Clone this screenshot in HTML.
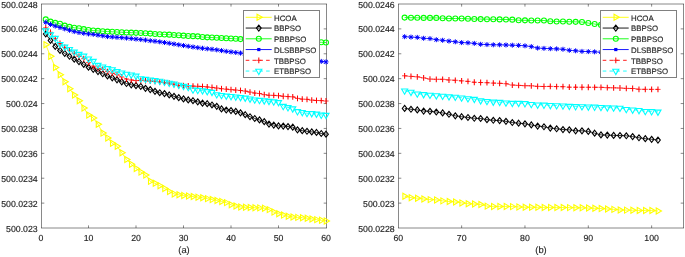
<!DOCTYPE html>
<html><head><meta charset="utf-8"><style>
html,body{margin:0;padding:0;background:#fff;}
body{width:685px;height:257px;overflow:hidden;font-family:"Liberation Sans",sans-serif;}
svg{display:block;will-change:transform;}
text{text-rendering:geometricPrecision;}
</style></head><body>
<svg width="685" height="257" viewBox="0 0 685 257">
<rect width="685" height="257" fill="#fff"/>
<path d="M41.5 4V228M326.5 4V228M41 4H327M41 228H327" fill="none" stroke="#262626" stroke-width="0.55"/>
<path d="M88.5 228v-2.6M88.5 4v2.6" stroke="#262626" stroke-width="0.55"/>
<path d="M136.0 228v-2.6M136.0 4v2.6" stroke="#262626" stroke-width="0.55"/>
<path d="M183.5 228v-2.6M183.5 4v2.6" stroke="#262626" stroke-width="0.55"/>
<path d="M231.0 228v-2.6M231.0 4v2.6" stroke="#262626" stroke-width="0.55"/>
<path d="M278.5 228v-2.6M278.5 4v2.6" stroke="#262626" stroke-width="0.55"/>
<path d="M41.5 28.88888888888889h2.8M326.5 28.88888888888889h-2.8" stroke="#262626" stroke-width="0.55"/>
<path d="M41.5 53.77777777777778h2.8M326.5 53.77777777777778h-2.8" stroke="#262626" stroke-width="0.55"/>
<path d="M41.5 78.66666666666667h2.8M326.5 78.66666666666667h-2.8" stroke="#262626" stroke-width="0.55"/>
<path d="M41.5 103.55555555555556h2.8M326.5 103.55555555555556h-2.8" stroke="#262626" stroke-width="0.55"/>
<path d="M41.5 128.44444444444446h2.8M326.5 128.44444444444446h-2.8" stroke="#262626" stroke-width="0.55"/>
<path d="M41.5 153.33333333333334h2.8M326.5 153.33333333333334h-2.8" stroke="#262626" stroke-width="0.55"/>
<path d="M41.5 178.22222222222223h2.8M326.5 178.22222222222223h-2.8" stroke="#262626" stroke-width="0.55"/>
<path d="M41.5 203.11111111111111h2.8M326.5 203.11111111111111h-2.8" stroke="#262626" stroke-width="0.55"/>
<text x="41.0" y="240.6" text-anchor="middle" font-size="8.75" fill="#262626" font-family="Liberation Sans, sans-serif" stroke="#262626" stroke-width="0.15">0</text>
<text x="88.5" y="240.6" text-anchor="middle" font-size="8.75" fill="#262626" font-family="Liberation Sans, sans-serif" stroke="#262626" stroke-width="0.15">10</text>
<text x="136.0" y="240.6" text-anchor="middle" font-size="8.75" fill="#262626" font-family="Liberation Sans, sans-serif" stroke="#262626" stroke-width="0.15">20</text>
<text x="183.5" y="240.6" text-anchor="middle" font-size="8.75" fill="#262626" font-family="Liberation Sans, sans-serif" stroke="#262626" stroke-width="0.15">30</text>
<text x="231.0" y="240.6" text-anchor="middle" font-size="8.75" fill="#262626" font-family="Liberation Sans, sans-serif" stroke="#262626" stroke-width="0.15">40</text>
<text x="278.5" y="240.6" text-anchor="middle" font-size="8.75" fill="#262626" font-family="Liberation Sans, sans-serif" stroke="#262626" stroke-width="0.15">50</text>
<text x="326.0" y="240.6" text-anchor="middle" font-size="8.75" fill="#262626" font-family="Liberation Sans, sans-serif" stroke="#262626" stroke-width="0.15">60</text>
<text x="37.7" y="7.55" text-anchor="end" font-size="8.75" fill="#262626" font-family="Liberation Sans, sans-serif" stroke="#262626" stroke-width="0.15">500.0248</text>
<text x="37.7" y="32.43888888888889" text-anchor="end" font-size="8.75" fill="#262626" font-family="Liberation Sans, sans-serif" stroke="#262626" stroke-width="0.15">500.0246</text>
<text x="37.7" y="57.327777777777776" text-anchor="end" font-size="8.75" fill="#262626" font-family="Liberation Sans, sans-serif" stroke="#262626" stroke-width="0.15">500.0244</text>
<text x="37.7" y="82.21666666666667" text-anchor="end" font-size="8.75" fill="#262626" font-family="Liberation Sans, sans-serif" stroke="#262626" stroke-width="0.15">500.0242</text>
<text x="37.7" y="107.10555555555555" text-anchor="end" font-size="8.75" fill="#262626" font-family="Liberation Sans, sans-serif" stroke="#262626" stroke-width="0.15">500.024</text>
<text x="37.7" y="131.99444444444447" text-anchor="end" font-size="8.75" fill="#262626" font-family="Liberation Sans, sans-serif" stroke="#262626" stroke-width="0.15">500.0238</text>
<text x="37.7" y="156.88333333333335" text-anchor="end" font-size="8.75" fill="#262626" font-family="Liberation Sans, sans-serif" stroke="#262626" stroke-width="0.15">500.0236</text>
<text x="37.7" y="181.77222222222224" text-anchor="end" font-size="8.75" fill="#262626" font-family="Liberation Sans, sans-serif" stroke="#262626" stroke-width="0.15">500.0234</text>
<text x="37.7" y="206.66111111111113" text-anchor="end" font-size="8.75" fill="#262626" font-family="Liberation Sans, sans-serif" stroke="#262626" stroke-width="0.15">500.0232</text>
<text x="37.7" y="231.55" text-anchor="end" font-size="8.75" fill="#262626" font-family="Liberation Sans, sans-serif" stroke="#262626" stroke-width="0.15">500.023</text>
<text x="184.0" y="252.8" text-anchor="middle" font-size="9.35" fill="#262626" font-family="Liberation Sans, sans-serif" stroke="#262626" stroke-width="0.15">(a)</text>
<g><polyline points="45.75,44.70 50.50,56.20 55.25,67.50 60.00,74.80 64.75,81.80 69.50,88.80 74.25,95.00 79.00,100.70 83.75,108.00 88.50,115.00 93.25,118.00 98.00,124.30 102.75,133.10 107.50,137.90 112.25,143.30 117.00,146.20 121.75,152.80 126.50,159.50 131.25,164.19 136.00,168.45 140.75,172.09 145.50,174.96 150.25,181.35 155.00,183.32 159.75,185.68 164.50,188.41 169.25,191.53 174.00,193.90 178.75,194.78 183.50,195.48 188.25,196.01 193.00,196.54 197.75,197.16 202.50,197.78 207.25,198.63 212.00,199.60 216.75,200.56 221.50,201.42 226.25,202.64 231.00,204.78 235.75,206.01 240.50,206.98 245.25,207.26 250.00,207.54 254.75,207.73 259.50,207.89 264.25,208.17 269.00,209.62 273.75,212.09 278.50,213.69 283.25,215.10 288.00,216.25 292.75,217.05 297.50,217.39 302.25,217.72 307.00,218.24 311.75,218.94 316.50,219.63 321.25,220.33 326.00,220.90" fill="none" stroke="#ffff00" stroke-width="0.8"/>
<path d="M49.25 44.70L44.00 41.67L44.00 47.73Z" fill="none" stroke="#ffff00" stroke-width="1.1"/>
<path d="M54.00 56.20L48.75 53.17L48.75 59.23Z" fill="none" stroke="#ffff00" stroke-width="1.1"/>
<path d="M58.75 67.50L53.50 64.47L53.50 70.53Z" fill="none" stroke="#ffff00" stroke-width="1.1"/>
<path d="M63.50 74.80L58.25 71.77L58.25 77.83Z" fill="none" stroke="#ffff00" stroke-width="1.1"/>
<path d="M68.25 81.80L63.00 78.77L63.00 84.83Z" fill="none" stroke="#ffff00" stroke-width="1.1"/>
<path d="M73.00 88.80L67.75 85.77L67.75 91.83Z" fill="none" stroke="#ffff00" stroke-width="1.1"/>
<path d="M77.75 95.00L72.50 91.97L72.50 98.03Z" fill="none" stroke="#ffff00" stroke-width="1.1"/>
<path d="M82.50 100.70L77.25 97.67L77.25 103.73Z" fill="none" stroke="#ffff00" stroke-width="1.1"/>
<path d="M87.25 108.00L82.00 104.97L82.00 111.03Z" fill="none" stroke="#ffff00" stroke-width="1.1"/>
<path d="M92.00 115.00L86.75 111.97L86.75 118.03Z" fill="none" stroke="#ffff00" stroke-width="1.1"/>
<path d="M96.75 118.00L91.50 114.97L91.50 121.03Z" fill="none" stroke="#ffff00" stroke-width="1.1"/>
<path d="M101.50 124.30L96.25 121.27L96.25 127.33Z" fill="none" stroke="#ffff00" stroke-width="1.1"/>
<path d="M106.25 133.10L101.00 130.07L101.00 136.13Z" fill="none" stroke="#ffff00" stroke-width="1.1"/>
<path d="M111.00 137.90L105.75 134.87L105.75 140.93Z" fill="none" stroke="#ffff00" stroke-width="1.1"/>
<path d="M115.75 143.30L110.50 140.27L110.50 146.33Z" fill="none" stroke="#ffff00" stroke-width="1.1"/>
<path d="M120.50 146.20L115.25 143.17L115.25 149.23Z" fill="none" stroke="#ffff00" stroke-width="1.1"/>
<path d="M125.25 152.80L120.00 149.77L120.00 155.83Z" fill="none" stroke="#ffff00" stroke-width="1.1"/>
<path d="M130.00 159.50L124.75 156.47L124.75 162.53Z" fill="none" stroke="#ffff00" stroke-width="1.1"/>
<path d="M134.75 164.19L129.50 161.16L129.50 167.22Z" fill="none" stroke="#ffff00" stroke-width="1.1"/>
<path d="M139.50 168.45L134.25 165.42L134.25 171.48Z" fill="none" stroke="#ffff00" stroke-width="1.1"/>
<path d="M144.25 172.09L139.00 169.06L139.00 175.12Z" fill="none" stroke="#ffff00" stroke-width="1.1"/>
<path d="M149.00 174.96L143.75 171.93L143.75 177.99Z" fill="none" stroke="#ffff00" stroke-width="1.1"/>
<path d="M153.75 181.35L148.50 178.32L148.50 184.38Z" fill="none" stroke="#ffff00" stroke-width="1.1"/>
<path d="M158.50 183.32L153.25 180.29L153.25 186.35Z" fill="none" stroke="#ffff00" stroke-width="1.1"/>
<path d="M163.25 185.68L158.00 182.64L158.00 188.71Z" fill="none" stroke="#ffff00" stroke-width="1.1"/>
<path d="M168.00 188.41L162.75 185.38L162.75 191.44Z" fill="none" stroke="#ffff00" stroke-width="1.1"/>
<path d="M172.75 191.53L167.50 188.49L167.50 194.56Z" fill="none" stroke="#ffff00" stroke-width="1.1"/>
<path d="M177.50 193.90L172.25 190.87L172.25 196.93Z" fill="none" stroke="#ffff00" stroke-width="1.1"/>
<path d="M182.25 194.78L177.00 191.75L177.00 197.81Z" fill="none" stroke="#ffff00" stroke-width="1.1"/>
<path d="M187.00 195.48L181.75 192.45L181.75 198.51Z" fill="none" stroke="#ffff00" stroke-width="1.1"/>
<path d="M191.75 196.01L186.50 192.97L186.50 199.04Z" fill="none" stroke="#ffff00" stroke-width="1.1"/>
<path d="M196.50 196.54L191.25 193.51L191.25 199.57Z" fill="none" stroke="#ffff00" stroke-width="1.1"/>
<path d="M201.25 197.16L196.00 194.13L196.00 200.19Z" fill="none" stroke="#ffff00" stroke-width="1.1"/>
<path d="M206.00 197.78L200.75 194.75L200.75 200.81Z" fill="none" stroke="#ffff00" stroke-width="1.1"/>
<path d="M210.75 198.63L205.50 195.59L205.50 201.66Z" fill="none" stroke="#ffff00" stroke-width="1.1"/>
<path d="M215.50 199.60L210.25 196.57L210.25 202.63Z" fill="none" stroke="#ffff00" stroke-width="1.1"/>
<path d="M220.25 200.56L215.00 197.52L215.00 203.59Z" fill="none" stroke="#ffff00" stroke-width="1.1"/>
<path d="M225.00 201.42L219.75 198.39L219.75 204.45Z" fill="none" stroke="#ffff00" stroke-width="1.1"/>
<path d="M229.75 202.64L224.50 199.61L224.50 205.67Z" fill="none" stroke="#ffff00" stroke-width="1.1"/>
<path d="M234.50 204.78L229.25 201.75L229.25 207.81Z" fill="none" stroke="#ffff00" stroke-width="1.1"/>
<path d="M239.25 206.01L234.00 202.98L234.00 209.04Z" fill="none" stroke="#ffff00" stroke-width="1.1"/>
<path d="M244.00 206.98L238.75 203.95L238.75 210.01Z" fill="none" stroke="#ffff00" stroke-width="1.1"/>
<path d="M248.75 207.26L243.50 204.23L243.50 210.29Z" fill="none" stroke="#ffff00" stroke-width="1.1"/>
<path d="M253.50 207.54L248.25 204.51L248.25 210.57Z" fill="none" stroke="#ffff00" stroke-width="1.1"/>
<path d="M258.25 207.73L253.00 204.70L253.00 210.76Z" fill="none" stroke="#ffff00" stroke-width="1.1"/>
<path d="M263.00 207.89L257.75 204.86L257.75 210.92Z" fill="none" stroke="#ffff00" stroke-width="1.1"/>
<path d="M267.75 208.17L262.50 205.14L262.50 211.20Z" fill="none" stroke="#ffff00" stroke-width="1.1"/>
<path d="M272.50 209.62L267.25 206.59L267.25 212.66Z" fill="none" stroke="#ffff00" stroke-width="1.1"/>
<path d="M277.25 212.09L272.00 209.06L272.00 215.12Z" fill="none" stroke="#ffff00" stroke-width="1.1"/>
<path d="M282.00 213.69L276.75 210.66L276.75 216.72Z" fill="none" stroke="#ffff00" stroke-width="1.1"/>
<path d="M286.75 215.10L281.50 212.07L281.50 218.13Z" fill="none" stroke="#ffff00" stroke-width="1.1"/>
<path d="M291.50 216.25L286.25 213.22L286.25 219.28Z" fill="none" stroke="#ffff00" stroke-width="1.1"/>
<path d="M296.25 217.05L291.00 214.02L291.00 220.08Z" fill="none" stroke="#ffff00" stroke-width="1.1"/>
<path d="M301.00 217.39L295.75 214.35L295.75 220.42Z" fill="none" stroke="#ffff00" stroke-width="1.1"/>
<path d="M305.75 217.72L300.50 214.69L300.50 220.76Z" fill="none" stroke="#ffff00" stroke-width="1.1"/>
<path d="M310.50 218.24L305.25 215.21L305.25 221.27Z" fill="none" stroke="#ffff00" stroke-width="1.1"/>
<path d="M315.25 218.94L310.00 215.91L310.00 221.97Z" fill="none" stroke="#ffff00" stroke-width="1.1"/>
<path d="M320.00 219.63L314.75 216.60L314.75 222.67Z" fill="none" stroke="#ffff00" stroke-width="1.1"/>
<path d="M324.75 220.33L319.50 217.29L319.50 223.36Z" fill="none" stroke="#ffff00" stroke-width="1.1"/>
<path d="M329.50 220.90L324.25 217.87L324.25 223.93Z" fill="none" stroke="#ffff00" stroke-width="1.1"/>
<polyline points="45.75,34.00 50.50,40.40 55.25,46.40 60.00,50.40 64.75,53.48 69.50,56.27 74.25,59.15 79.00,61.73 83.75,64.44 88.50,67.14 93.25,69.37 98.00,71.58 102.75,73.77 107.50,75.94 112.25,77.86 117.00,79.80 121.75,81.85 126.50,83.52 131.25,84.82 136.00,85.65 140.75,86.47 145.50,88.33 150.25,89.59 155.00,91.33 159.75,92.71 164.50,93.58 169.25,94.93 174.00,96.30 178.75,97.66 183.50,98.90 188.25,99.89 193.00,100.68 197.75,101.81 202.50,103.13 207.25,103.68 212.00,104.96 216.75,106.36 221.50,108.88 226.25,109.99 231.00,110.56 235.75,111.39 240.50,112.80 245.25,114.68 250.00,116.73 254.75,118.47 259.50,119.91 264.25,121.64 269.00,124.05 273.75,125.09 278.50,125.90 283.25,126.11 288.00,126.55 292.75,127.14 297.50,129.85 302.25,130.66 307.00,131.27 311.75,131.88 316.50,132.42 321.25,133.47 326.00,134.20" fill="none" stroke="#000000" stroke-width="0.8"/>
<path d="M45.75 31.05L48.10 34.00L45.75 36.95L43.40 34.00Z" fill="none" stroke="#000000" stroke-width="1.1"/>
<path d="M50.50 37.45L52.85 40.40L50.50 43.35L48.15 40.40Z" fill="none" stroke="#000000" stroke-width="1.1"/>
<path d="M55.25 43.45L57.60 46.40L55.25 49.35L52.90 46.40Z" fill="none" stroke="#000000" stroke-width="1.1"/>
<path d="M60.00 47.45L62.35 50.40L60.00 53.35L57.65 50.40Z" fill="none" stroke="#000000" stroke-width="1.1"/>
<path d="M64.75 50.53L67.10 53.48L64.75 56.43L62.40 53.48Z" fill="none" stroke="#000000" stroke-width="1.1"/>
<path d="M69.50 53.32L71.85 56.27L69.50 59.22L67.15 56.27Z" fill="none" stroke="#000000" stroke-width="1.1"/>
<path d="M74.25 56.20L76.60 59.15L74.25 62.10L71.90 59.15Z" fill="none" stroke="#000000" stroke-width="1.1"/>
<path d="M79.00 58.78L81.35 61.73L79.00 64.68L76.65 61.73Z" fill="none" stroke="#000000" stroke-width="1.1"/>
<path d="M83.75 61.49L86.10 64.44L83.75 67.39L81.40 64.44Z" fill="none" stroke="#000000" stroke-width="1.1"/>
<path d="M88.50 64.19L90.85 67.14L88.50 70.09L86.15 67.14Z" fill="none" stroke="#000000" stroke-width="1.1"/>
<path d="M93.25 66.42L95.60 69.37L93.25 72.32L90.90 69.37Z" fill="none" stroke="#000000" stroke-width="1.1"/>
<path d="M98.00 68.63L100.35 71.58L98.00 74.53L95.65 71.58Z" fill="none" stroke="#000000" stroke-width="1.1"/>
<path d="M102.75 70.82L105.10 73.77L102.75 76.72L100.40 73.77Z" fill="none" stroke="#000000" stroke-width="1.1"/>
<path d="M107.50 72.99L109.85 75.94L107.50 78.89L105.15 75.94Z" fill="none" stroke="#000000" stroke-width="1.1"/>
<path d="M112.25 74.91L114.60 77.86L112.25 80.81L109.90 77.86Z" fill="none" stroke="#000000" stroke-width="1.1"/>
<path d="M117.00 76.85L119.35 79.80L117.00 82.75L114.65 79.80Z" fill="none" stroke="#000000" stroke-width="1.1"/>
<path d="M121.75 78.90L124.10 81.85L121.75 84.80L119.40 81.85Z" fill="none" stroke="#000000" stroke-width="1.1"/>
<path d="M126.50 80.57L128.85 83.52L126.50 86.47L124.15 83.52Z" fill="none" stroke="#000000" stroke-width="1.1"/>
<path d="M131.25 81.87L133.60 84.82L131.25 87.77L128.90 84.82Z" fill="none" stroke="#000000" stroke-width="1.1"/>
<path d="M136.00 82.70L138.35 85.65L136.00 88.60L133.65 85.65Z" fill="none" stroke="#000000" stroke-width="1.1"/>
<path d="M140.75 83.52L143.10 86.47L140.75 89.42L138.40 86.47Z" fill="none" stroke="#000000" stroke-width="1.1"/>
<path d="M145.50 85.38L147.85 88.33L145.50 91.28L143.15 88.33Z" fill="none" stroke="#000000" stroke-width="1.1"/>
<path d="M150.25 86.64L152.60 89.59L150.25 92.54L147.90 89.59Z" fill="none" stroke="#000000" stroke-width="1.1"/>
<path d="M155.00 88.38L157.35 91.33L155.00 94.28L152.65 91.33Z" fill="none" stroke="#000000" stroke-width="1.1"/>
<path d="M159.75 89.76L162.10 92.71L159.75 95.66L157.40 92.71Z" fill="none" stroke="#000000" stroke-width="1.1"/>
<path d="M164.50 90.63L166.85 93.58L164.50 96.53L162.15 93.58Z" fill="none" stroke="#000000" stroke-width="1.1"/>
<path d="M169.25 91.98L171.60 94.93L169.25 97.88L166.90 94.93Z" fill="none" stroke="#000000" stroke-width="1.1"/>
<path d="M174.00 93.35L176.35 96.30L174.00 99.25L171.65 96.30Z" fill="none" stroke="#000000" stroke-width="1.1"/>
<path d="M178.75 94.71L181.10 97.66L178.75 100.61L176.40 97.66Z" fill="none" stroke="#000000" stroke-width="1.1"/>
<path d="M183.50 95.95L185.85 98.90L183.50 101.85L181.15 98.90Z" fill="none" stroke="#000000" stroke-width="1.1"/>
<path d="M188.25 96.94L190.60 99.89L188.25 102.84L185.90 99.89Z" fill="none" stroke="#000000" stroke-width="1.1"/>
<path d="M193.00 97.73L195.35 100.68L193.00 103.63L190.65 100.68Z" fill="none" stroke="#000000" stroke-width="1.1"/>
<path d="M197.75 98.86L200.10 101.81L197.75 104.76L195.40 101.81Z" fill="none" stroke="#000000" stroke-width="1.1"/>
<path d="M202.50 100.18L204.85 103.13L202.50 106.08L200.15 103.13Z" fill="none" stroke="#000000" stroke-width="1.1"/>
<path d="M207.25 100.73L209.60 103.68L207.25 106.63L204.90 103.68Z" fill="none" stroke="#000000" stroke-width="1.1"/>
<path d="M212.00 102.01L214.35 104.96L212.00 107.91L209.65 104.96Z" fill="none" stroke="#000000" stroke-width="1.1"/>
<path d="M216.75 103.41L219.10 106.36L216.75 109.31L214.40 106.36Z" fill="none" stroke="#000000" stroke-width="1.1"/>
<path d="M221.50 105.93L223.85 108.88L221.50 111.83L219.15 108.88Z" fill="none" stroke="#000000" stroke-width="1.1"/>
<path d="M226.25 107.04L228.60 109.99L226.25 112.94L223.90 109.99Z" fill="none" stroke="#000000" stroke-width="1.1"/>
<path d="M231.00 107.61L233.35 110.56L231.00 113.51L228.65 110.56Z" fill="none" stroke="#000000" stroke-width="1.1"/>
<path d="M235.75 108.44L238.10 111.39L235.75 114.34L233.40 111.39Z" fill="none" stroke="#000000" stroke-width="1.1"/>
<path d="M240.50 109.85L242.85 112.80L240.50 115.75L238.15 112.80Z" fill="none" stroke="#000000" stroke-width="1.1"/>
<path d="M245.25 111.73L247.60 114.68L245.25 117.63L242.90 114.68Z" fill="none" stroke="#000000" stroke-width="1.1"/>
<path d="M250.00 113.78L252.35 116.73L250.00 119.68L247.65 116.73Z" fill="none" stroke="#000000" stroke-width="1.1"/>
<path d="M254.75 115.52L257.10 118.47L254.75 121.42L252.40 118.47Z" fill="none" stroke="#000000" stroke-width="1.1"/>
<path d="M259.50 116.96L261.85 119.91L259.50 122.86L257.15 119.91Z" fill="none" stroke="#000000" stroke-width="1.1"/>
<path d="M264.25 118.69L266.60 121.64L264.25 124.59L261.90 121.64Z" fill="none" stroke="#000000" stroke-width="1.1"/>
<path d="M269.00 121.10L271.35 124.05L269.00 127.00L266.65 124.05Z" fill="none" stroke="#000000" stroke-width="1.1"/>
<path d="M273.75 122.14L276.10 125.09L273.75 128.04L271.40 125.09Z" fill="none" stroke="#000000" stroke-width="1.1"/>
<path d="M278.50 122.95L280.85 125.90L278.50 128.85L276.15 125.90Z" fill="none" stroke="#000000" stroke-width="1.1"/>
<path d="M283.25 123.16L285.60 126.11L283.25 129.06L280.90 126.11Z" fill="none" stroke="#000000" stroke-width="1.1"/>
<path d="M288.00 123.60L290.35 126.55L288.00 129.50L285.65 126.55Z" fill="none" stroke="#000000" stroke-width="1.1"/>
<path d="M292.75 124.19L295.10 127.14L292.75 130.09L290.40 127.14Z" fill="none" stroke="#000000" stroke-width="1.1"/>
<path d="M297.50 126.90L299.85 129.85L297.50 132.80L295.15 129.85Z" fill="none" stroke="#000000" stroke-width="1.1"/>
<path d="M302.25 127.71L304.60 130.66L302.25 133.61L299.90 130.66Z" fill="none" stroke="#000000" stroke-width="1.1"/>
<path d="M307.00 128.32L309.35 131.27L307.00 134.22L304.65 131.27Z" fill="none" stroke="#000000" stroke-width="1.1"/>
<path d="M311.75 128.93L314.10 131.88L311.75 134.83L309.40 131.88Z" fill="none" stroke="#000000" stroke-width="1.1"/>
<path d="M316.50 129.47L318.85 132.42L316.50 135.37L314.15 132.42Z" fill="none" stroke="#000000" stroke-width="1.1"/>
<path d="M321.25 130.52L323.60 133.47L321.25 136.42L318.90 133.47Z" fill="none" stroke="#000000" stroke-width="1.1"/>
<path d="M326.00 131.25L328.35 134.20L326.00 137.15L323.65 134.20Z" fill="none" stroke="#000000" stroke-width="1.1"/>
<polyline points="45.75,19.40 50.50,21.60 55.25,22.90 60.00,23.80 64.75,25.60 69.50,26.90 74.25,27.80 79.00,28.20 83.75,29.10 88.50,30.00 93.25,30.50 98.00,30.87 102.75,31.23 107.50,31.60 112.25,31.82 117.00,32.03 121.75,32.25 126.50,32.46 131.25,32.67 136.00,32.87 140.75,33.07 145.50,33.28 150.25,33.62 155.00,33.97 159.75,34.23 164.50,34.43 169.25,34.66 174.00,34.99 178.75,35.31 183.50,35.65 188.25,36.00 193.00,36.15 197.75,36.34 202.50,37.06 207.25,37.37 212.00,37.57 216.75,37.79 221.50,38.03 226.25,38.28 231.00,38.55 235.75,38.82 240.50,39.09 245.25,39.28 250.00,39.47 254.75,39.66 259.50,39.85 264.25,40.04 269.00,40.23 273.75,40.42 278.50,40.61 283.25,40.80 288.00,40.99 292.75,41.17 297.50,41.36 302.25,41.55 307.00,41.74 311.75,41.93 316.50,42.12 321.25,42.31 326.00,42.50" fill="none" stroke="#00ff00" stroke-width="0.8"/>
<circle cx="45.75" cy="19.40" r="2.50" fill="none" stroke="#00ff00" stroke-width="1.1"/>
<circle cx="50.50" cy="21.60" r="2.50" fill="none" stroke="#00ff00" stroke-width="1.1"/>
<circle cx="55.25" cy="22.90" r="2.50" fill="none" stroke="#00ff00" stroke-width="1.1"/>
<circle cx="60.00" cy="23.80" r="2.50" fill="none" stroke="#00ff00" stroke-width="1.1"/>
<circle cx="64.75" cy="25.60" r="2.50" fill="none" stroke="#00ff00" stroke-width="1.1"/>
<circle cx="69.50" cy="26.90" r="2.50" fill="none" stroke="#00ff00" stroke-width="1.1"/>
<circle cx="74.25" cy="27.80" r="2.50" fill="none" stroke="#00ff00" stroke-width="1.1"/>
<circle cx="79.00" cy="28.20" r="2.50" fill="none" stroke="#00ff00" stroke-width="1.1"/>
<circle cx="83.75" cy="29.10" r="2.50" fill="none" stroke="#00ff00" stroke-width="1.1"/>
<circle cx="88.50" cy="30.00" r="2.50" fill="none" stroke="#00ff00" stroke-width="1.1"/>
<circle cx="93.25" cy="30.50" r="2.50" fill="none" stroke="#00ff00" stroke-width="1.1"/>
<circle cx="98.00" cy="30.87" r="2.50" fill="none" stroke="#00ff00" stroke-width="1.1"/>
<circle cx="102.75" cy="31.23" r="2.50" fill="none" stroke="#00ff00" stroke-width="1.1"/>
<circle cx="107.50" cy="31.60" r="2.50" fill="none" stroke="#00ff00" stroke-width="1.1"/>
<circle cx="112.25" cy="31.82" r="2.50" fill="none" stroke="#00ff00" stroke-width="1.1"/>
<circle cx="117.00" cy="32.03" r="2.50" fill="none" stroke="#00ff00" stroke-width="1.1"/>
<circle cx="121.75" cy="32.25" r="2.50" fill="none" stroke="#00ff00" stroke-width="1.1"/>
<circle cx="126.50" cy="32.46" r="2.50" fill="none" stroke="#00ff00" stroke-width="1.1"/>
<circle cx="131.25" cy="32.67" r="2.50" fill="none" stroke="#00ff00" stroke-width="1.1"/>
<circle cx="136.00" cy="32.87" r="2.50" fill="none" stroke="#00ff00" stroke-width="1.1"/>
<circle cx="140.75" cy="33.07" r="2.50" fill="none" stroke="#00ff00" stroke-width="1.1"/>
<circle cx="145.50" cy="33.28" r="2.50" fill="none" stroke="#00ff00" stroke-width="1.1"/>
<circle cx="150.25" cy="33.62" r="2.50" fill="none" stroke="#00ff00" stroke-width="1.1"/>
<circle cx="155.00" cy="33.97" r="2.50" fill="none" stroke="#00ff00" stroke-width="1.1"/>
<circle cx="159.75" cy="34.23" r="2.50" fill="none" stroke="#00ff00" stroke-width="1.1"/>
<circle cx="164.50" cy="34.43" r="2.50" fill="none" stroke="#00ff00" stroke-width="1.1"/>
<circle cx="169.25" cy="34.66" r="2.50" fill="none" stroke="#00ff00" stroke-width="1.1"/>
<circle cx="174.00" cy="34.99" r="2.50" fill="none" stroke="#00ff00" stroke-width="1.1"/>
<circle cx="178.75" cy="35.31" r="2.50" fill="none" stroke="#00ff00" stroke-width="1.1"/>
<circle cx="183.50" cy="35.65" r="2.50" fill="none" stroke="#00ff00" stroke-width="1.1"/>
<circle cx="188.25" cy="36.00" r="2.50" fill="none" stroke="#00ff00" stroke-width="1.1"/>
<circle cx="193.00" cy="36.15" r="2.50" fill="none" stroke="#00ff00" stroke-width="1.1"/>
<circle cx="197.75" cy="36.34" r="2.50" fill="none" stroke="#00ff00" stroke-width="1.1"/>
<circle cx="202.50" cy="37.06" r="2.50" fill="none" stroke="#00ff00" stroke-width="1.1"/>
<circle cx="207.25" cy="37.37" r="2.50" fill="none" stroke="#00ff00" stroke-width="1.1"/>
<circle cx="212.00" cy="37.57" r="2.50" fill="none" stroke="#00ff00" stroke-width="1.1"/>
<circle cx="216.75" cy="37.79" r="2.50" fill="none" stroke="#00ff00" stroke-width="1.1"/>
<circle cx="221.50" cy="38.03" r="2.50" fill="none" stroke="#00ff00" stroke-width="1.1"/>
<circle cx="226.25" cy="38.28" r="2.50" fill="none" stroke="#00ff00" stroke-width="1.1"/>
<circle cx="231.00" cy="38.55" r="2.50" fill="none" stroke="#00ff00" stroke-width="1.1"/>
<circle cx="235.75" cy="38.82" r="2.50" fill="none" stroke="#00ff00" stroke-width="1.1"/>
<circle cx="240.50" cy="39.09" r="2.50" fill="none" stroke="#00ff00" stroke-width="1.1"/>
<circle cx="245.25" cy="39.28" r="2.50" fill="none" stroke="#00ff00" stroke-width="1.1"/>
<circle cx="250.00" cy="39.47" r="2.50" fill="none" stroke="#00ff00" stroke-width="1.1"/>
<circle cx="254.75" cy="39.66" r="2.50" fill="none" stroke="#00ff00" stroke-width="1.1"/>
<circle cx="259.50" cy="39.85" r="2.50" fill="none" stroke="#00ff00" stroke-width="1.1"/>
<circle cx="264.25" cy="40.04" r="2.50" fill="none" stroke="#00ff00" stroke-width="1.1"/>
<circle cx="269.00" cy="40.23" r="2.50" fill="none" stroke="#00ff00" stroke-width="1.1"/>
<circle cx="273.75" cy="40.42" r="2.50" fill="none" stroke="#00ff00" stroke-width="1.1"/>
<circle cx="278.50" cy="40.61" r="2.50" fill="none" stroke="#00ff00" stroke-width="1.1"/>
<circle cx="283.25" cy="40.80" r="2.50" fill="none" stroke="#00ff00" stroke-width="1.1"/>
<circle cx="288.00" cy="40.99" r="2.50" fill="none" stroke="#00ff00" stroke-width="1.1"/>
<circle cx="292.75" cy="41.17" r="2.50" fill="none" stroke="#00ff00" stroke-width="1.1"/>
<circle cx="297.50" cy="41.36" r="2.50" fill="none" stroke="#00ff00" stroke-width="1.1"/>
<circle cx="302.25" cy="41.55" r="2.50" fill="none" stroke="#00ff00" stroke-width="1.1"/>
<circle cx="307.00" cy="41.74" r="2.50" fill="none" stroke="#00ff00" stroke-width="1.1"/>
<circle cx="311.75" cy="41.93" r="2.50" fill="none" stroke="#00ff00" stroke-width="1.1"/>
<circle cx="316.50" cy="42.12" r="2.50" fill="none" stroke="#00ff00" stroke-width="1.1"/>
<circle cx="321.25" cy="42.31" r="2.50" fill="none" stroke="#00ff00" stroke-width="1.1"/>
<circle cx="326.00" cy="42.50" r="2.50" fill="none" stroke="#00ff00" stroke-width="1.1"/>
<polyline points="45.75,22.30 50.50,24.46 55.25,26.06 60.00,27.48 64.75,28.88 69.50,30.24 74.25,31.59 79.00,32.48 83.75,33.30 88.50,33.91 93.25,34.33 98.00,35.09 102.75,35.84 107.50,36.60 112.25,36.95 117.00,37.31 121.75,37.66 126.50,38.06 131.25,38.55 136.00,39.05 140.75,39.55 145.50,40.05 150.25,40.71 155.00,41.22 159.75,41.84 164.50,42.53 169.25,43.24 174.00,44.02 178.75,44.80 183.50,45.55 188.25,46.29 193.00,46.98 197.75,47.63 202.50,48.28 207.25,48.80 212.00,49.29 216.75,49.87 221.50,50.60 226.25,51.33 231.00,51.92 235.75,52.50 240.50,53.08 245.25,53.57 250.00,54.06 254.75,54.55 259.50,55.04 264.25,55.53 269.00,56.02 273.75,56.51 278.50,57.00 283.25,57.49 288.00,57.98 292.75,58.47 297.50,58.96 302.25,59.45 307.00,59.94 311.75,60.43 316.50,60.92 321.25,61.41 326.00,61.90" fill="none" stroke="#0000ff" stroke-width="0.8"/>
<path d="M43.25 22.30H48.25M45.75 19.80V24.80M43.88 20.43L47.62 24.18M43.88 24.18L47.62 20.43" stroke="#0000ff" stroke-width="1"/>
<path d="M48.00 24.46H53.00M50.50 21.96V26.96M48.62 22.58L52.38 26.33M48.62 26.33L52.38 22.58" stroke="#0000ff" stroke-width="1"/>
<path d="M52.75 26.06H57.75M55.25 23.56V28.56M53.38 24.19L57.12 27.94M53.38 27.94L57.12 24.19" stroke="#0000ff" stroke-width="1"/>
<path d="M57.50 27.48H62.50M60.00 24.98V29.98M58.12 25.61L61.88 29.36M58.12 29.36L61.88 25.61" stroke="#0000ff" stroke-width="1"/>
<path d="M62.25 28.88H67.25M64.75 26.38V31.38M62.88 27.01L66.62 30.76M62.88 30.76L66.62 27.01" stroke="#0000ff" stroke-width="1"/>
<path d="M67.00 30.24H72.00M69.50 27.74V32.74M67.62 28.36L71.38 32.11M67.62 32.11L71.38 28.36" stroke="#0000ff" stroke-width="1"/>
<path d="M71.75 31.59H76.75M74.25 29.09V34.09M72.38 29.71L76.12 33.46M72.38 33.46L76.12 29.71" stroke="#0000ff" stroke-width="1"/>
<path d="M76.50 32.48H81.50M79.00 29.98V34.98M77.12 30.61L80.88 34.36M77.12 34.36L80.88 30.61" stroke="#0000ff" stroke-width="1"/>
<path d="M81.25 33.30H86.25M83.75 30.80V35.80M81.88 31.42L85.62 35.17M81.88 35.17L85.62 31.42" stroke="#0000ff" stroke-width="1"/>
<path d="M86.00 33.91H91.00M88.50 31.41V36.41M86.62 32.03L90.38 35.78M86.62 35.78L90.38 32.03" stroke="#0000ff" stroke-width="1"/>
<path d="M90.75 34.33H95.75M93.25 31.83V36.83M91.38 32.46L95.12 36.21M91.38 36.21L95.12 32.46" stroke="#0000ff" stroke-width="1"/>
<path d="M95.50 35.09H100.50M98.00 32.59V37.59M96.12 33.21L99.88 36.96M96.12 36.96L99.88 33.21" stroke="#0000ff" stroke-width="1"/>
<path d="M100.25 35.84H105.25M102.75 33.34V38.34M100.88 33.97L104.62 37.72M100.88 37.72L104.62 33.97" stroke="#0000ff" stroke-width="1"/>
<path d="M105.00 36.60H110.00M107.50 34.10V39.10M105.62 34.73L109.38 38.48M105.62 38.48L109.38 34.73" stroke="#0000ff" stroke-width="1"/>
<path d="M109.75 36.95H114.75M112.25 34.45V39.45M110.38 35.08L114.12 38.83M110.38 38.83L114.12 35.08" stroke="#0000ff" stroke-width="1"/>
<path d="M114.50 37.31H119.50M117.00 34.81V39.81M115.12 35.43L118.88 39.18M115.12 39.18L118.88 35.43" stroke="#0000ff" stroke-width="1"/>
<path d="M119.25 37.66H124.25M121.75 35.16V40.16M119.88 35.78L123.62 39.53M119.88 39.53L123.62 35.78" stroke="#0000ff" stroke-width="1"/>
<path d="M124.00 38.06H129.00M126.50 35.56V40.56M124.62 36.18L128.38 39.93M124.62 39.93L128.38 36.18" stroke="#0000ff" stroke-width="1"/>
<path d="M128.75 38.55H133.75M131.25 36.05V41.05M129.38 36.68L133.12 40.43M129.38 40.43L133.12 36.68" stroke="#0000ff" stroke-width="1"/>
<path d="M133.50 39.05H138.50M136.00 36.55V41.55M134.12 37.18L137.88 40.93M134.12 40.93L137.88 37.18" stroke="#0000ff" stroke-width="1"/>
<path d="M138.25 39.55H143.25M140.75 37.05V42.05M138.88 37.67L142.62 41.42M138.88 41.42L142.62 37.67" stroke="#0000ff" stroke-width="1"/>
<path d="M143.00 40.05H148.00M145.50 37.55V42.55M143.62 38.17L147.38 41.92M143.62 41.92L147.38 38.17" stroke="#0000ff" stroke-width="1"/>
<path d="M147.75 40.71H152.75M150.25 38.21V43.21M148.38 38.83L152.12 42.58M148.38 42.58L152.12 38.83" stroke="#0000ff" stroke-width="1"/>
<path d="M152.50 41.22H157.50M155.00 38.72V43.72M153.12 39.35L156.88 43.10M153.12 43.10L156.88 39.35" stroke="#0000ff" stroke-width="1"/>
<path d="M157.25 41.84H162.25M159.75 39.34V44.34M157.88 39.97L161.62 43.72M157.88 43.72L161.62 39.97" stroke="#0000ff" stroke-width="1"/>
<path d="M162.00 42.53H167.00M164.50 40.03V45.03M162.62 40.66L166.38 44.41M162.62 44.41L166.38 40.66" stroke="#0000ff" stroke-width="1"/>
<path d="M166.75 43.24H171.75M169.25 40.74V45.74M167.38 41.36L171.12 45.11M167.38 45.11L171.12 41.36" stroke="#0000ff" stroke-width="1"/>
<path d="M171.50 44.02H176.50M174.00 41.52V46.52M172.12 42.14L175.88 45.89M172.12 45.89L175.88 42.14" stroke="#0000ff" stroke-width="1"/>
<path d="M176.25 44.80H181.25M178.75 42.30V47.30M176.88 42.92L180.62 46.67M176.88 46.67L180.62 42.92" stroke="#0000ff" stroke-width="1"/>
<path d="M181.00 45.55H186.00M183.50 43.05V48.05M181.62 43.67L185.38 47.42M181.62 47.42L185.38 43.67" stroke="#0000ff" stroke-width="1"/>
<path d="M185.75 46.29H190.75M188.25 43.79V48.79M186.38 44.42L190.12 48.17M186.38 48.17L190.12 44.42" stroke="#0000ff" stroke-width="1"/>
<path d="M190.50 46.98H195.50M193.00 44.48V49.48M191.12 45.10L194.88 48.85M191.12 48.85L194.88 45.10" stroke="#0000ff" stroke-width="1"/>
<path d="M195.25 47.63H200.25M197.75 45.13V50.13M195.88 45.75L199.62 49.50M195.88 49.50L199.62 45.75" stroke="#0000ff" stroke-width="1"/>
<path d="M200.00 48.28H205.00M202.50 45.78V50.78M200.62 46.40L204.38 50.15M200.62 50.15L204.38 46.40" stroke="#0000ff" stroke-width="1"/>
<path d="M204.75 48.80H209.75M207.25 46.30V51.30M205.38 46.92L209.12 50.67M205.38 50.67L209.12 46.92" stroke="#0000ff" stroke-width="1"/>
<path d="M209.50 49.29H214.50M212.00 46.79V51.79M210.12 47.41L213.88 51.16M210.12 51.16L213.88 47.41" stroke="#0000ff" stroke-width="1"/>
<path d="M214.25 49.87H219.25M216.75 47.37V52.37M214.88 47.99L218.62 51.74M214.88 51.74L218.62 47.99" stroke="#0000ff" stroke-width="1"/>
<path d="M219.00 50.60H224.00M221.50 48.10V53.10M219.62 48.73L223.38 52.48M219.62 52.48L223.38 48.73" stroke="#0000ff" stroke-width="1"/>
<path d="M223.75 51.33H228.75M226.25 48.83V53.83M224.38 49.46L228.12 53.21M224.38 53.21L228.12 49.46" stroke="#0000ff" stroke-width="1"/>
<path d="M228.50 51.92H233.50M231.00 49.42V54.42M229.12 50.05L232.88 53.80M229.12 53.80L232.88 50.05" stroke="#0000ff" stroke-width="1"/>
<path d="M233.25 52.50H238.25M235.75 50.00V55.00M233.88 50.62L237.62 54.37M233.88 54.37L237.62 50.62" stroke="#0000ff" stroke-width="1"/>
<path d="M238.00 53.08H243.00M240.50 50.58V55.58M238.62 51.20L242.38 54.95M238.62 54.95L242.38 51.20" stroke="#0000ff" stroke-width="1"/>
<path d="M242.75 53.57H247.75M245.25 51.07V56.07M243.38 51.69L247.12 55.44M243.38 55.44L247.12 51.69" stroke="#0000ff" stroke-width="1"/>
<path d="M247.50 54.06H252.50M250.00 51.56V56.56M248.12 52.18L251.88 55.93M248.12 55.93L251.88 52.18" stroke="#0000ff" stroke-width="1"/>
<path d="M252.25 54.55H257.25M254.75 52.05V57.05M252.88 52.67L256.62 56.42M252.88 56.42L256.62 52.67" stroke="#0000ff" stroke-width="1"/>
<path d="M257.00 55.04H262.00M259.50 52.54V57.54M257.62 53.16L261.38 56.91M257.62 56.91L261.38 53.16" stroke="#0000ff" stroke-width="1"/>
<path d="M261.75 55.53H266.75M264.25 53.03V58.03M262.38 53.65L266.12 57.40M262.38 57.40L266.12 53.65" stroke="#0000ff" stroke-width="1"/>
<path d="M266.50 56.02H271.50M269.00 53.52V58.52M267.12 54.14L270.88 57.89M267.12 57.89L270.88 54.14" stroke="#0000ff" stroke-width="1"/>
<path d="M271.25 56.51H276.25M273.75 54.01V59.01M271.88 54.63L275.62 58.38M271.88 58.38L275.62 54.63" stroke="#0000ff" stroke-width="1"/>
<path d="M276.00 57.00H281.00M278.50 54.50V59.50M276.62 55.12L280.38 58.87M276.62 58.87L280.38 55.12" stroke="#0000ff" stroke-width="1"/>
<path d="M280.75 57.49H285.75M283.25 54.99V59.99M281.38 55.61L285.12 59.36M281.38 59.36L285.12 55.61" stroke="#0000ff" stroke-width="1"/>
<path d="M285.50 57.98H290.50M288.00 55.48V60.48M286.12 56.10L289.88 59.85M286.12 59.85L289.88 56.10" stroke="#0000ff" stroke-width="1"/>
<path d="M290.25 58.47H295.25M292.75 55.97V60.97M290.88 56.59L294.62 60.34M290.88 60.34L294.62 56.59" stroke="#0000ff" stroke-width="1"/>
<path d="M295.00 58.96H300.00M297.50 56.46V61.46M295.62 57.08L299.38 60.83M295.62 60.83L299.38 57.08" stroke="#0000ff" stroke-width="1"/>
<path d="M299.75 59.45H304.75M302.25 56.95V61.95M300.38 57.57L304.12 61.32M300.38 61.32L304.12 57.57" stroke="#0000ff" stroke-width="1"/>
<path d="M304.50 59.94H309.50M307.00 57.44V62.44M305.12 58.06L308.88 61.81M305.12 61.81L308.88 58.06" stroke="#0000ff" stroke-width="1"/>
<path d="M309.25 60.43H314.25M311.75 57.93V62.93M309.88 58.55L313.62 62.30M309.88 62.30L313.62 58.55" stroke="#0000ff" stroke-width="1"/>
<path d="M314.00 60.92H319.00M316.50 58.42V63.42M314.62 59.04L318.38 62.79M314.62 62.79L318.38 59.04" stroke="#0000ff" stroke-width="1"/>
<path d="M318.75 61.41H323.75M321.25 58.91V63.91M319.38 59.53L323.12 63.28M319.38 63.28L323.12 59.53" stroke="#0000ff" stroke-width="1"/>
<path d="M323.50 61.90H328.50M326.00 59.40V64.40M324.12 60.02L327.88 63.77M324.12 63.77L327.88 60.02" stroke="#0000ff" stroke-width="1"/>
<polyline points="45.75,27.80 50.50,32.30 55.25,38.60 60.00,43.50 64.75,47.50 69.50,50.20 74.25,53.70 79.00,56.50 83.75,58.70 88.50,62.67 93.25,66.08 98.00,68.33 102.75,69.45 107.50,71.63 112.25,73.07 117.00,74.65 121.75,77.03 126.50,79.04 131.25,80.00 136.00,80.57 140.75,80.50 145.50,80.79 150.25,81.09 155.00,81.39 159.75,81.97 164.50,82.57 169.25,83.17 174.00,84.35 178.75,85.51 183.50,85.70 188.25,85.90 193.00,86.10 197.75,86.30 202.50,86.50 207.25,86.95 212.00,87.41 216.75,88.07 221.50,88.72 226.25,89.17 231.00,89.63 235.75,90.06 240.50,90.49 245.25,91.07 250.00,92.11 254.75,93.09 259.50,93.48 264.25,94.68 269.00,95.28 273.75,95.39 278.50,95.67 283.25,96.27 288.00,96.58 292.75,96.79 297.50,98.40 302.25,99.16 307.00,99.30 311.75,100.11 316.50,100.49 321.25,100.59 326.00,101.00" fill="none" stroke="#ff0000" stroke-width="0.8" stroke-dasharray="3.6,3.2"/>
<path d="M43.15 27.80H48.35" stroke="#ff0000" stroke-width="0.75"/><path d="M45.75 24.90V30.70" stroke="#ff0000" stroke-width="1.05"/>
<path d="M47.90 32.30H53.10" stroke="#ff0000" stroke-width="0.75"/><path d="M50.50 29.40V35.20" stroke="#ff0000" stroke-width="1.05"/>
<path d="M52.65 38.60H57.85" stroke="#ff0000" stroke-width="0.75"/><path d="M55.25 35.70V41.50" stroke="#ff0000" stroke-width="1.05"/>
<path d="M57.40 43.50H62.60" stroke="#ff0000" stroke-width="0.75"/><path d="M60.00 40.60V46.40" stroke="#ff0000" stroke-width="1.05"/>
<path d="M62.15 47.50H67.35" stroke="#ff0000" stroke-width="0.75"/><path d="M64.75 44.60V50.40" stroke="#ff0000" stroke-width="1.05"/>
<path d="M66.90 50.20H72.10" stroke="#ff0000" stroke-width="0.75"/><path d="M69.50 47.30V53.10" stroke="#ff0000" stroke-width="1.05"/>
<path d="M71.65 53.70H76.85" stroke="#ff0000" stroke-width="0.75"/><path d="M74.25 50.80V56.60" stroke="#ff0000" stroke-width="1.05"/>
<path d="M76.40 56.50H81.60" stroke="#ff0000" stroke-width="0.75"/><path d="M79.00 53.60V59.40" stroke="#ff0000" stroke-width="1.05"/>
<path d="M81.15 58.70H86.35" stroke="#ff0000" stroke-width="0.75"/><path d="M83.75 55.80V61.60" stroke="#ff0000" stroke-width="1.05"/>
<path d="M85.90 62.67H91.10" stroke="#ff0000" stroke-width="0.75"/><path d="M88.50 59.77V65.57" stroke="#ff0000" stroke-width="1.05"/>
<path d="M90.65 66.08H95.85" stroke="#ff0000" stroke-width="0.75"/><path d="M93.25 63.18V68.98" stroke="#ff0000" stroke-width="1.05"/>
<path d="M95.40 68.33H100.60" stroke="#ff0000" stroke-width="0.75"/><path d="M98.00 65.43V71.23" stroke="#ff0000" stroke-width="1.05"/>
<path d="M100.15 69.45H105.35" stroke="#ff0000" stroke-width="0.75"/><path d="M102.75 66.55V72.35" stroke="#ff0000" stroke-width="1.05"/>
<path d="M104.90 71.63H110.10" stroke="#ff0000" stroke-width="0.75"/><path d="M107.50 68.73V74.53" stroke="#ff0000" stroke-width="1.05"/>
<path d="M109.65 73.07H114.85" stroke="#ff0000" stroke-width="0.75"/><path d="M112.25 70.17V75.97" stroke="#ff0000" stroke-width="1.05"/>
<path d="M114.40 74.65H119.60" stroke="#ff0000" stroke-width="0.75"/><path d="M117.00 71.75V77.55" stroke="#ff0000" stroke-width="1.05"/>
<path d="M119.15 77.03H124.35" stroke="#ff0000" stroke-width="0.75"/><path d="M121.75 74.12V79.93" stroke="#ff0000" stroke-width="1.05"/>
<path d="M123.90 79.04H129.10" stroke="#ff0000" stroke-width="0.75"/><path d="M126.50 76.14V81.94" stroke="#ff0000" stroke-width="1.05"/>
<path d="M128.65 80.00H133.85" stroke="#ff0000" stroke-width="0.75"/><path d="M131.25 77.10V82.90" stroke="#ff0000" stroke-width="1.05"/>
<path d="M133.40 80.57H138.60" stroke="#ff0000" stroke-width="0.75"/><path d="M136.00 77.67V83.47" stroke="#ff0000" stroke-width="1.05"/>
<path d="M138.15 80.50H143.35" stroke="#ff0000" stroke-width="0.75"/><path d="M140.75 77.60V83.40" stroke="#ff0000" stroke-width="1.05"/>
<path d="M142.90 80.79H148.10" stroke="#ff0000" stroke-width="0.75"/><path d="M145.50 77.89V83.69" stroke="#ff0000" stroke-width="1.05"/>
<path d="M147.65 81.09H152.85" stroke="#ff0000" stroke-width="0.75"/><path d="M150.25 78.19V83.99" stroke="#ff0000" stroke-width="1.05"/>
<path d="M152.40 81.39H157.60" stroke="#ff0000" stroke-width="0.75"/><path d="M155.00 78.49V84.29" stroke="#ff0000" stroke-width="1.05"/>
<path d="M157.15 81.97H162.35" stroke="#ff0000" stroke-width="0.75"/><path d="M159.75 79.07V84.87" stroke="#ff0000" stroke-width="1.05"/>
<path d="M161.90 82.57H167.10" stroke="#ff0000" stroke-width="0.75"/><path d="M164.50 79.67V85.47" stroke="#ff0000" stroke-width="1.05"/>
<path d="M166.65 83.17H171.85" stroke="#ff0000" stroke-width="0.75"/><path d="M169.25 80.27V86.07" stroke="#ff0000" stroke-width="1.05"/>
<path d="M171.40 84.35H176.60" stroke="#ff0000" stroke-width="0.75"/><path d="M174.00 81.45V87.25" stroke="#ff0000" stroke-width="1.05"/>
<path d="M176.15 85.51H181.35" stroke="#ff0000" stroke-width="0.75"/><path d="M178.75 82.61V88.41" stroke="#ff0000" stroke-width="1.05"/>
<path d="M180.90 85.70H186.10" stroke="#ff0000" stroke-width="0.75"/><path d="M183.50 82.80V88.60" stroke="#ff0000" stroke-width="1.05"/>
<path d="M185.65 85.90H190.85" stroke="#ff0000" stroke-width="0.75"/><path d="M188.25 83.00V88.80" stroke="#ff0000" stroke-width="1.05"/>
<path d="M190.40 86.10H195.60" stroke="#ff0000" stroke-width="0.75"/><path d="M193.00 83.20V89.00" stroke="#ff0000" stroke-width="1.05"/>
<path d="M195.15 86.30H200.35" stroke="#ff0000" stroke-width="0.75"/><path d="M197.75 83.40V89.20" stroke="#ff0000" stroke-width="1.05"/>
<path d="M199.90 86.50H205.10" stroke="#ff0000" stroke-width="0.75"/><path d="M202.50 83.60V89.40" stroke="#ff0000" stroke-width="1.05"/>
<path d="M204.65 86.95H209.85" stroke="#ff0000" stroke-width="0.75"/><path d="M207.25 84.05V89.85" stroke="#ff0000" stroke-width="1.05"/>
<path d="M209.40 87.41H214.60" stroke="#ff0000" stroke-width="0.75"/><path d="M212.00 84.51V90.31" stroke="#ff0000" stroke-width="1.05"/>
<path d="M214.15 88.07H219.35" stroke="#ff0000" stroke-width="0.75"/><path d="M216.75 85.17V90.97" stroke="#ff0000" stroke-width="1.05"/>
<path d="M218.90 88.72H224.10" stroke="#ff0000" stroke-width="0.75"/><path d="M221.50 85.82V91.62" stroke="#ff0000" stroke-width="1.05"/>
<path d="M223.65 89.17H228.85" stroke="#ff0000" stroke-width="0.75"/><path d="M226.25 86.27V92.07" stroke="#ff0000" stroke-width="1.05"/>
<path d="M228.40 89.63H233.60" stroke="#ff0000" stroke-width="0.75"/><path d="M231.00 86.73V92.53" stroke="#ff0000" stroke-width="1.05"/>
<path d="M233.15 90.06H238.35" stroke="#ff0000" stroke-width="0.75"/><path d="M235.75 87.16V92.96" stroke="#ff0000" stroke-width="1.05"/>
<path d="M237.90 90.49H243.10" stroke="#ff0000" stroke-width="0.75"/><path d="M240.50 87.59V93.39" stroke="#ff0000" stroke-width="1.05"/>
<path d="M242.65 91.07H247.85" stroke="#ff0000" stroke-width="0.75"/><path d="M245.25 88.17V93.97" stroke="#ff0000" stroke-width="1.05"/>
<path d="M247.40 92.11H252.60" stroke="#ff0000" stroke-width="0.75"/><path d="M250.00 89.21V95.01" stroke="#ff0000" stroke-width="1.05"/>
<path d="M252.15 93.09H257.35" stroke="#ff0000" stroke-width="0.75"/><path d="M254.75 90.19V95.99" stroke="#ff0000" stroke-width="1.05"/>
<path d="M256.90 93.48H262.10" stroke="#ff0000" stroke-width="0.75"/><path d="M259.50 90.58V96.38" stroke="#ff0000" stroke-width="1.05"/>
<path d="M261.65 94.68H266.85" stroke="#ff0000" stroke-width="0.75"/><path d="M264.25 91.78V97.58" stroke="#ff0000" stroke-width="1.05"/>
<path d="M266.40 95.28H271.60" stroke="#ff0000" stroke-width="0.75"/><path d="M269.00 92.38V98.18" stroke="#ff0000" stroke-width="1.05"/>
<path d="M271.15 95.39H276.35" stroke="#ff0000" stroke-width="0.75"/><path d="M273.75 92.49V98.29" stroke="#ff0000" stroke-width="1.05"/>
<path d="M275.90 95.67H281.10" stroke="#ff0000" stroke-width="0.75"/><path d="M278.50 92.77V98.57" stroke="#ff0000" stroke-width="1.05"/>
<path d="M280.65 96.27H285.85" stroke="#ff0000" stroke-width="0.75"/><path d="M283.25 93.37V99.17" stroke="#ff0000" stroke-width="1.05"/>
<path d="M285.40 96.58H290.60" stroke="#ff0000" stroke-width="0.75"/><path d="M288.00 93.68V99.48" stroke="#ff0000" stroke-width="1.05"/>
<path d="M290.15 96.79H295.35" stroke="#ff0000" stroke-width="0.75"/><path d="M292.75 93.89V99.69" stroke="#ff0000" stroke-width="1.05"/>
<path d="M294.90 98.40H300.10" stroke="#ff0000" stroke-width="0.75"/><path d="M297.50 95.50V101.30" stroke="#ff0000" stroke-width="1.05"/>
<path d="M299.65 99.16H304.85" stroke="#ff0000" stroke-width="0.75"/><path d="M302.25 96.26V102.06" stroke="#ff0000" stroke-width="1.05"/>
<path d="M304.40 99.30H309.60" stroke="#ff0000" stroke-width="0.75"/><path d="M307.00 96.40V102.20" stroke="#ff0000" stroke-width="1.05"/>
<path d="M309.15 100.11H314.35" stroke="#ff0000" stroke-width="0.75"/><path d="M311.75 97.21V103.01" stroke="#ff0000" stroke-width="1.05"/>
<path d="M313.90 100.49H319.10" stroke="#ff0000" stroke-width="0.75"/><path d="M316.50 97.59V103.39" stroke="#ff0000" stroke-width="1.05"/>
<path d="M318.65 100.59H323.85" stroke="#ff0000" stroke-width="0.75"/><path d="M321.25 97.69V103.49" stroke="#ff0000" stroke-width="1.05"/>
<path d="M323.40 101.00H328.60" stroke="#ff0000" stroke-width="0.75"/><path d="M326.00 98.10V103.90" stroke="#ff0000" stroke-width="1.05"/>
<polyline points="45.75,30.60 50.50,34.60 55.25,38.10 60.00,44.30 64.75,46.90 69.50,49.20 74.25,51.90 79.00,54.10 83.75,55.90 88.50,58.80 93.25,61.10 98.00,65.10 102.75,66.75 107.50,68.40 112.25,69.55 117.00,71.40 121.75,72.70 126.50,74.00 131.25,74.70 136.00,75.90 140.75,78.50 145.50,79.10 150.25,79.71 155.00,80.32 159.75,81.05 164.50,82.00 169.25,82.95 174.00,83.90 178.75,84.96 183.50,86.10 188.25,87.24 193.00,89.75 197.75,90.17 202.50,90.60 207.25,91.37 212.00,92.14 216.75,94.52 221.50,95.22 226.25,95.84 231.00,96.32 235.75,96.81 240.50,97.34 245.25,97.87 250.00,98.80 254.75,99.68 259.50,100.16 264.25,100.64 269.00,101.11 273.75,101.66 278.50,102.33 283.25,106.16 288.00,107.40 292.75,108.61 297.50,111.40 302.25,112.31 307.00,113.19 311.75,113.39 316.50,113.89 321.25,114.91 326.00,115.10" fill="none" stroke="#00ffff" stroke-width="0.8" stroke-dasharray="3.6,3.2"/>
<path d="M45.75 34.10L42.72 28.85L48.78 28.85Z" fill="none" stroke="#00ffff" stroke-width="1.1"/>
<path d="M50.50 38.10L47.47 32.85L53.53 32.85Z" fill="none" stroke="#00ffff" stroke-width="1.1"/>
<path d="M55.25 41.60L52.22 36.35L58.28 36.35Z" fill="none" stroke="#00ffff" stroke-width="1.1"/>
<path d="M60.00 47.80L56.97 42.55L63.03 42.55Z" fill="none" stroke="#00ffff" stroke-width="1.1"/>
<path d="M64.75 50.40L61.72 45.15L67.78 45.15Z" fill="none" stroke="#00ffff" stroke-width="1.1"/>
<path d="M69.50 52.70L66.47 47.45L72.53 47.45Z" fill="none" stroke="#00ffff" stroke-width="1.1"/>
<path d="M74.25 55.40L71.22 50.15L77.28 50.15Z" fill="none" stroke="#00ffff" stroke-width="1.1"/>
<path d="M79.00 57.60L75.97 52.35L82.03 52.35Z" fill="none" stroke="#00ffff" stroke-width="1.1"/>
<path d="M83.75 59.40L80.72 54.15L86.78 54.15Z" fill="none" stroke="#00ffff" stroke-width="1.1"/>
<path d="M88.50 62.30L85.47 57.05L91.53 57.05Z" fill="none" stroke="#00ffff" stroke-width="1.1"/>
<path d="M93.25 64.60L90.22 59.35L96.28 59.35Z" fill="none" stroke="#00ffff" stroke-width="1.1"/>
<path d="M98.00 68.60L94.97 63.35L101.03 63.35Z" fill="none" stroke="#00ffff" stroke-width="1.1"/>
<path d="M102.75 70.25L99.72 65.00L105.78 65.00Z" fill="none" stroke="#00ffff" stroke-width="1.1"/>
<path d="M107.50 71.90L104.47 66.65L110.53 66.65Z" fill="none" stroke="#00ffff" stroke-width="1.1"/>
<path d="M112.25 73.05L109.22 67.80L115.28 67.80Z" fill="none" stroke="#00ffff" stroke-width="1.1"/>
<path d="M117.00 74.90L113.97 69.65L120.03 69.65Z" fill="none" stroke="#00ffff" stroke-width="1.1"/>
<path d="M121.75 76.20L118.72 70.95L124.78 70.95Z" fill="none" stroke="#00ffff" stroke-width="1.1"/>
<path d="M126.50 77.50L123.47 72.25L129.53 72.25Z" fill="none" stroke="#00ffff" stroke-width="1.1"/>
<path d="M131.25 78.20L128.22 72.95L134.28 72.95Z" fill="none" stroke="#00ffff" stroke-width="1.1"/>
<path d="M136.00 79.40L132.97 74.15L139.03 74.15Z" fill="none" stroke="#00ffff" stroke-width="1.1"/>
<path d="M140.75 82.00L137.72 76.75L143.78 76.75Z" fill="none" stroke="#00ffff" stroke-width="1.1"/>
<path d="M145.50 82.60L142.47 77.35L148.53 77.35Z" fill="none" stroke="#00ffff" stroke-width="1.1"/>
<path d="M150.25 83.21L147.22 77.96L153.28 77.96Z" fill="none" stroke="#00ffff" stroke-width="1.1"/>
<path d="M155.00 83.82L151.97 78.57L158.03 78.57Z" fill="none" stroke="#00ffff" stroke-width="1.1"/>
<path d="M159.75 84.55L156.72 79.30L162.78 79.30Z" fill="none" stroke="#00ffff" stroke-width="1.1"/>
<path d="M164.50 85.50L161.47 80.25L167.53 80.25Z" fill="none" stroke="#00ffff" stroke-width="1.1"/>
<path d="M169.25 86.45L166.22 81.20L172.28 81.20Z" fill="none" stroke="#00ffff" stroke-width="1.1"/>
<path d="M174.00 87.40L170.97 82.15L177.03 82.15Z" fill="none" stroke="#00ffff" stroke-width="1.1"/>
<path d="M178.75 88.46L175.72 83.21L181.78 83.21Z" fill="none" stroke="#00ffff" stroke-width="1.1"/>
<path d="M183.50 89.60L180.47 84.35L186.53 84.35Z" fill="none" stroke="#00ffff" stroke-width="1.1"/>
<path d="M188.25 90.74L185.22 85.49L191.28 85.49Z" fill="none" stroke="#00ffff" stroke-width="1.1"/>
<path d="M193.00 93.25L189.97 88.00L196.03 88.00Z" fill="none" stroke="#00ffff" stroke-width="1.1"/>
<path d="M197.75 93.67L194.72 88.42L200.78 88.42Z" fill="none" stroke="#00ffff" stroke-width="1.1"/>
<path d="M202.50 94.10L199.47 88.85L205.53 88.85Z" fill="none" stroke="#00ffff" stroke-width="1.1"/>
<path d="M207.25 94.87L204.22 89.62L210.28 89.62Z" fill="none" stroke="#00ffff" stroke-width="1.1"/>
<path d="M212.00 95.64L208.97 90.39L215.03 90.39Z" fill="none" stroke="#00ffff" stroke-width="1.1"/>
<path d="M216.75 98.02L213.72 92.77L219.78 92.77Z" fill="none" stroke="#00ffff" stroke-width="1.1"/>
<path d="M221.50 98.72L218.47 93.47L224.53 93.47Z" fill="none" stroke="#00ffff" stroke-width="1.1"/>
<path d="M226.25 99.34L223.22 94.09L229.28 94.09Z" fill="none" stroke="#00ffff" stroke-width="1.1"/>
<path d="M231.00 99.82L227.97 94.57L234.03 94.57Z" fill="none" stroke="#00ffff" stroke-width="1.1"/>
<path d="M235.75 100.31L232.72 95.06L238.78 95.06Z" fill="none" stroke="#00ffff" stroke-width="1.1"/>
<path d="M240.50 100.84L237.47 95.59L243.53 95.59Z" fill="none" stroke="#00ffff" stroke-width="1.1"/>
<path d="M245.25 101.37L242.22 96.12L248.28 96.12Z" fill="none" stroke="#00ffff" stroke-width="1.1"/>
<path d="M250.00 102.30L246.97 97.05L253.03 97.05Z" fill="none" stroke="#00ffff" stroke-width="1.1"/>
<path d="M254.75 103.18L251.72 97.93L257.78 97.93Z" fill="none" stroke="#00ffff" stroke-width="1.1"/>
<path d="M259.50 103.66L256.47 98.41L262.53 98.41Z" fill="none" stroke="#00ffff" stroke-width="1.1"/>
<path d="M264.25 104.14L261.22 98.89L267.28 98.89Z" fill="none" stroke="#00ffff" stroke-width="1.1"/>
<path d="M269.00 104.61L265.97 99.36L272.03 99.36Z" fill="none" stroke="#00ffff" stroke-width="1.1"/>
<path d="M273.75 105.16L270.72 99.91L276.78 99.91Z" fill="none" stroke="#00ffff" stroke-width="1.1"/>
<path d="M278.50 105.83L275.47 100.58L281.53 100.58Z" fill="none" stroke="#00ffff" stroke-width="1.1"/>
<path d="M283.25 109.66L280.22 104.41L286.28 104.41Z" fill="none" stroke="#00ffff" stroke-width="1.1"/>
<path d="M288.00 110.90L284.97 105.65L291.03 105.65Z" fill="none" stroke="#00ffff" stroke-width="1.1"/>
<path d="M292.75 112.11L289.72 106.86L295.78 106.86Z" fill="none" stroke="#00ffff" stroke-width="1.1"/>
<path d="M297.50 114.90L294.47 109.65L300.53 109.65Z" fill="none" stroke="#00ffff" stroke-width="1.1"/>
<path d="M302.25 115.81L299.22 110.56L305.28 110.56Z" fill="none" stroke="#00ffff" stroke-width="1.1"/>
<path d="M307.00 116.69L303.97 111.44L310.03 111.44Z" fill="none" stroke="#00ffff" stroke-width="1.1"/>
<path d="M311.75 116.89L308.72 111.64L314.78 111.64Z" fill="none" stroke="#00ffff" stroke-width="1.1"/>
<path d="M316.50 117.39L313.47 112.14L319.53 112.14Z" fill="none" stroke="#00ffff" stroke-width="1.1"/>
<path d="M321.25 118.41L318.22 113.16L324.28 113.16Z" fill="none" stroke="#00ffff" stroke-width="1.1"/>
<path d="M326.00 118.60L322.97 113.35L329.03 113.35Z" fill="none" stroke="#00ffff" stroke-width="1.1"/></g>
<rect x="243.5" y="10.5" width="76" height="67" fill="#ffffff" stroke="#808080" stroke-width="1"/>
<path d="M245.7 17.30H271.7" stroke="#ffff00" stroke-width="0.9"/>
<path d="M262.30 17.30L257.05 14.27L257.05 20.33Z" fill="none" stroke="#ffff00" stroke-width="1.1"/>
<text x="274" y="20.70" font-size="7.85" fill="#262626" font-family="Liberation Sans, sans-serif" stroke="#262626" stroke-width="0.15">HCOA</text>
<path d="M245.7 28.05H271.7" stroke="#000000" stroke-width="0.9"/>
<path d="M258.80 25.10L261.15 28.05L258.80 31.00L256.45 28.05Z" fill="none" stroke="#000000" stroke-width="1.1"/>
<text x="274" y="31.45" font-size="7.85" fill="#262626" font-family="Liberation Sans, sans-serif" stroke="#262626" stroke-width="0.15">BBPSO</text>
<path d="M245.7 38.80H271.7" stroke="#00ff00" stroke-width="0.9"/>
<circle cx="258.80" cy="38.80" r="2.50" fill="none" stroke="#00ff00" stroke-width="1.1"/>
<text x="274" y="42.20" font-size="7.85" fill="#262626" font-family="Liberation Sans, sans-serif" stroke="#262626" stroke-width="0.15">PBBPSO</text>
<path d="M245.7 49.55H271.7" stroke="#0000ff" stroke-width="0.9"/>
<rect x="257.20" y="47.95" width="3.2" height="3.2" fill="#0000ff"/>
<text x="274" y="52.95" font-size="7.85" fill="#262626" font-family="Liberation Sans, sans-serif" stroke="#262626" stroke-width="0.15">DLSBBPSO</text>
<path d="M245.7 60.30H271.7" stroke="#ff0000" stroke-width="0.9" stroke-dasharray="3.6,3.2"/>
<path d="M256.20 60.30H261.40" stroke="#ff0000" stroke-width="0.75"/><path d="M258.80 57.40V63.20" stroke="#ff0000" stroke-width="1.05"/>
<text x="274" y="63.70" font-size="7.85" fill="#262626" font-family="Liberation Sans, sans-serif" stroke="#262626" stroke-width="0.15">TBBPSO</text>
<path d="M245.7 71.05H271.7" stroke="#00ffff" stroke-width="0.9" stroke-dasharray="3.6,3.2"/>
<path d="M258.80 74.55L255.77 69.30L261.83 69.30Z" fill="none" stroke="#00ffff" stroke-width="1.1"/>
<text x="274" y="74.45" font-size="7.85" fill="#262626" font-family="Liberation Sans, sans-serif" stroke="#262626" stroke-width="0.15">ETBBPSO</text>
<path d="M398.5 4V228M683.5 4V228M398 4H684M398 228H684" fill="none" stroke="#262626" stroke-width="0.55"/>
<path d="M461.6333333333333 228v-2.6M461.6333333333333 4v2.6" stroke="#262626" stroke-width="0.55"/>
<path d="M524.9666666666667 228v-2.6M524.9666666666667 4v2.6" stroke="#262626" stroke-width="0.55"/>
<path d="M588.3 228v-2.6M588.3 4v2.6" stroke="#262626" stroke-width="0.55"/>
<path d="M651.6333333333333 228v-2.6M651.6333333333333 4v2.6" stroke="#262626" stroke-width="0.55"/>
<path d="M398.5 28.88888888888889h2.8M683.5 28.88888888888889h-2.8" stroke="#262626" stroke-width="0.55"/>
<path d="M398.5 53.77777777777778h2.8M683.5 53.77777777777778h-2.8" stroke="#262626" stroke-width="0.55"/>
<path d="M398.5 78.66666666666667h2.8M683.5 78.66666666666667h-2.8" stroke="#262626" stroke-width="0.55"/>
<path d="M398.5 103.55555555555556h2.8M683.5 103.55555555555556h-2.8" stroke="#262626" stroke-width="0.55"/>
<path d="M398.5 128.44444444444446h2.8M683.5 128.44444444444446h-2.8" stroke="#262626" stroke-width="0.55"/>
<path d="M398.5 153.33333333333334h2.8M683.5 153.33333333333334h-2.8" stroke="#262626" stroke-width="0.55"/>
<path d="M398.5 178.22222222222223h2.8M683.5 178.22222222222223h-2.8" stroke="#262626" stroke-width="0.55"/>
<path d="M398.5 203.11111111111111h2.8M683.5 203.11111111111111h-2.8" stroke="#262626" stroke-width="0.55"/>
<text x="398.3" y="240.6" text-anchor="middle" font-size="8.75" fill="#262626" font-family="Liberation Sans, sans-serif" stroke="#262626" stroke-width="0.15">60</text>
<text x="461.6333333333333" y="240.6" text-anchor="middle" font-size="8.75" fill="#262626" font-family="Liberation Sans, sans-serif" stroke="#262626" stroke-width="0.15">70</text>
<text x="524.9666666666667" y="240.6" text-anchor="middle" font-size="8.75" fill="#262626" font-family="Liberation Sans, sans-serif" stroke="#262626" stroke-width="0.15">80</text>
<text x="588.3" y="240.6" text-anchor="middle" font-size="8.75" fill="#262626" font-family="Liberation Sans, sans-serif" stroke="#262626" stroke-width="0.15">90</text>
<text x="651.6333333333333" y="240.6" text-anchor="middle" font-size="8.75" fill="#262626" font-family="Liberation Sans, sans-serif" stroke="#262626" stroke-width="0.15">100</text>
<text x="394.7" y="7.55" text-anchor="end" font-size="8.75" fill="#262626" font-family="Liberation Sans, sans-serif" stroke="#262626" stroke-width="0.15">500.0246</text>
<text x="394.7" y="32.43888888888889" text-anchor="end" font-size="8.75" fill="#262626" font-family="Liberation Sans, sans-serif" stroke="#262626" stroke-width="0.15">500.0244</text>
<text x="394.7" y="57.327777777777776" text-anchor="end" font-size="8.75" fill="#262626" font-family="Liberation Sans, sans-serif" stroke="#262626" stroke-width="0.15">500.0242</text>
<text x="394.7" y="82.21666666666667" text-anchor="end" font-size="8.75" fill="#262626" font-family="Liberation Sans, sans-serif" stroke="#262626" stroke-width="0.15">500.024</text>
<text x="394.7" y="107.10555555555555" text-anchor="end" font-size="8.75" fill="#262626" font-family="Liberation Sans, sans-serif" stroke="#262626" stroke-width="0.15">500.0238</text>
<text x="394.7" y="131.99444444444447" text-anchor="end" font-size="8.75" fill="#262626" font-family="Liberation Sans, sans-serif" stroke="#262626" stroke-width="0.15">500.0236</text>
<text x="394.7" y="156.88333333333335" text-anchor="end" font-size="8.75" fill="#262626" font-family="Liberation Sans, sans-serif" stroke="#262626" stroke-width="0.15">500.0234</text>
<text x="394.7" y="181.77222222222224" text-anchor="end" font-size="8.75" fill="#262626" font-family="Liberation Sans, sans-serif" stroke="#262626" stroke-width="0.15">500.0232</text>
<text x="394.7" y="206.66111111111113" text-anchor="end" font-size="8.75" fill="#262626" font-family="Liberation Sans, sans-serif" stroke="#262626" stroke-width="0.15">500.023</text>
<text x="394.7" y="231.55" text-anchor="end" font-size="8.75" fill="#262626" font-family="Liberation Sans, sans-serif" stroke="#262626" stroke-width="0.15">500.0228</text>
<text x="541.0" y="252.8" text-anchor="middle" font-size="9.35" fill="#262626" font-family="Liberation Sans, sans-serif" stroke="#262626" stroke-width="0.15">(b)</text>
<g><polyline points="404.63,196.27 410.97,197.65 417.30,198.19 423.63,199.07 429.97,199.62 436.30,199.93 442.63,200.87 448.97,201.46 455.30,202.02 461.63,202.90 467.97,203.73 474.30,204.03 480.63,204.50 486.97,206.13 493.30,206.40 499.63,206.40 505.97,206.42 512.30,206.62 518.63,206.92 524.97,207.21 531.30,207.26 537.63,207.31 543.97,207.40 550.30,207.40 556.63,207.45 562.97,207.51 569.30,207.61 575.63,207.71 581.97,207.83 588.30,208.07 594.63,208.30 600.97,208.58 607.30,209.04 613.63,209.38 619.97,210.01 626.30,210.11 632.63,210.22 638.97,210.41 645.30,210.46 651.63,210.56 657.97,211.00" fill="none" stroke="#ffff00" stroke-width="0.8"/>
<path d="M408.13 196.27L402.88 193.24L402.88 199.30Z" fill="none" stroke="#ffff00" stroke-width="1.1"/>
<path d="M414.47 197.65L409.22 194.62L409.22 200.68Z" fill="none" stroke="#ffff00" stroke-width="1.1"/>
<path d="M420.80 198.19L415.55 195.16L415.55 201.22Z" fill="none" stroke="#ffff00" stroke-width="1.1"/>
<path d="M427.13 199.07L421.88 196.04L421.88 202.10Z" fill="none" stroke="#ffff00" stroke-width="1.1"/>
<path d="M433.47 199.62L428.22 196.59L428.22 202.65Z" fill="none" stroke="#ffff00" stroke-width="1.1"/>
<path d="M439.80 199.93L434.55 196.89L434.55 202.96Z" fill="none" stroke="#ffff00" stroke-width="1.1"/>
<path d="M446.13 200.87L440.88 197.84L440.88 203.90Z" fill="none" stroke="#ffff00" stroke-width="1.1"/>
<path d="M452.47 201.46L447.22 198.43L447.22 204.49Z" fill="none" stroke="#ffff00" stroke-width="1.1"/>
<path d="M458.80 202.02L453.55 198.99L453.55 205.06Z" fill="none" stroke="#ffff00" stroke-width="1.1"/>
<path d="M465.13 202.90L459.88 199.87L459.88 205.93Z" fill="none" stroke="#ffff00" stroke-width="1.1"/>
<path d="M471.47 203.73L466.22 200.70L466.22 206.76Z" fill="none" stroke="#ffff00" stroke-width="1.1"/>
<path d="M477.80 204.03L472.55 201.00L472.55 207.06Z" fill="none" stroke="#ffff00" stroke-width="1.1"/>
<path d="M484.13 204.50L478.88 201.47L478.88 207.53Z" fill="none" stroke="#ffff00" stroke-width="1.1"/>
<path d="M490.47 206.13L485.22 203.10L485.22 209.16Z" fill="none" stroke="#ffff00" stroke-width="1.1"/>
<path d="M496.80 206.40L491.55 203.37L491.55 209.43Z" fill="none" stroke="#ffff00" stroke-width="1.1"/>
<path d="M503.13 206.40L497.88 203.37L497.88 209.43Z" fill="none" stroke="#ffff00" stroke-width="1.1"/>
<path d="M509.47 206.42L504.22 203.39L504.22 209.45Z" fill="none" stroke="#ffff00" stroke-width="1.1"/>
<path d="M515.80 206.62L510.55 203.59L510.55 209.65Z" fill="none" stroke="#ffff00" stroke-width="1.1"/>
<path d="M522.13 206.92L516.88 203.89L516.88 209.95Z" fill="none" stroke="#ffff00" stroke-width="1.1"/>
<path d="M528.47 207.21L523.22 204.18L523.22 210.24Z" fill="none" stroke="#ffff00" stroke-width="1.1"/>
<path d="M534.80 207.26L529.55 204.22L529.55 210.29Z" fill="none" stroke="#ffff00" stroke-width="1.1"/>
<path d="M541.13 207.31L535.88 204.28L535.88 210.34Z" fill="none" stroke="#ffff00" stroke-width="1.1"/>
<path d="M547.47 207.40L542.22 204.37L542.22 210.43Z" fill="none" stroke="#ffff00" stroke-width="1.1"/>
<path d="M553.80 207.40L548.55 204.37L548.55 210.44Z" fill="none" stroke="#ffff00" stroke-width="1.1"/>
<path d="M560.13 207.45L554.88 204.42L554.88 210.48Z" fill="none" stroke="#ffff00" stroke-width="1.1"/>
<path d="M566.47 207.51L561.22 204.47L561.22 210.54Z" fill="none" stroke="#ffff00" stroke-width="1.1"/>
<path d="M572.80 207.61L567.55 204.58L567.55 210.64Z" fill="none" stroke="#ffff00" stroke-width="1.1"/>
<path d="M579.13 207.71L573.88 204.68L573.88 210.74Z" fill="none" stroke="#ffff00" stroke-width="1.1"/>
<path d="M585.47 207.83L580.22 204.80L580.22 210.86Z" fill="none" stroke="#ffff00" stroke-width="1.1"/>
<path d="M591.80 208.07L586.55 205.03L586.55 211.10Z" fill="none" stroke="#ffff00" stroke-width="1.1"/>
<path d="M598.13 208.30L592.88 205.27L592.88 211.33Z" fill="none" stroke="#ffff00" stroke-width="1.1"/>
<path d="M604.47 208.58L599.22 205.55L599.22 211.61Z" fill="none" stroke="#ffff00" stroke-width="1.1"/>
<path d="M610.80 209.04L605.55 206.01L605.55 212.07Z" fill="none" stroke="#ffff00" stroke-width="1.1"/>
<path d="M617.13 209.38L611.88 206.35L611.88 212.41Z" fill="none" stroke="#ffff00" stroke-width="1.1"/>
<path d="M623.47 210.01L618.22 206.98L618.22 213.04Z" fill="none" stroke="#ffff00" stroke-width="1.1"/>
<path d="M629.80 210.11L624.55 207.08L624.55 213.14Z" fill="none" stroke="#ffff00" stroke-width="1.1"/>
<path d="M636.13 210.22L630.88 207.19L630.88 213.25Z" fill="none" stroke="#ffff00" stroke-width="1.1"/>
<path d="M642.47 210.41L637.22 207.37L637.22 213.44Z" fill="none" stroke="#ffff00" stroke-width="1.1"/>
<path d="M648.80 210.46L643.55 207.42L643.55 213.49Z" fill="none" stroke="#ffff00" stroke-width="1.1"/>
<path d="M655.13 210.56L649.88 207.53L649.88 213.60Z" fill="none" stroke="#ffff00" stroke-width="1.1"/>
<path d="M661.47 211.00L656.22 207.97L656.22 214.03Z" fill="none" stroke="#ffff00" stroke-width="1.1"/>
<polyline points="404.63,108.40 410.97,109.28 417.30,109.88 423.63,111.09 429.97,111.30 436.30,112.00 442.63,112.89 448.97,114.29 455.30,115.81 461.63,116.69 467.97,117.48 474.30,118.28 480.63,118.50 486.97,119.66 493.30,120.29 499.63,120.59 505.97,121.37 512.30,122.54 518.63,123.17 524.97,123.81 531.30,124.90 537.63,126.07 543.97,126.77 550.30,128.06 556.63,128.77 562.97,129.55 569.30,129.82 575.63,130.80 581.97,130.80 588.30,131.38 594.63,133.19 600.97,134.91 607.30,135.10 613.63,135.40 619.97,135.50 626.30,135.79 632.63,136.59 638.97,137.78 645.30,138.66 651.63,139.30 657.97,140.08" fill="none" stroke="#000000" stroke-width="0.8"/>
<path d="M404.63 105.45L406.98 108.40L404.63 111.35L402.28 108.40Z" fill="none" stroke="#000000" stroke-width="1.1"/>
<path d="M410.97 106.33L413.32 109.28L410.97 112.23L408.62 109.28Z" fill="none" stroke="#000000" stroke-width="1.1"/>
<path d="M417.30 106.93L419.65 109.88L417.30 112.83L414.95 109.88Z" fill="none" stroke="#000000" stroke-width="1.1"/>
<path d="M423.63 108.14L425.98 111.09L423.63 114.04L421.28 111.09Z" fill="none" stroke="#000000" stroke-width="1.1"/>
<path d="M429.97 108.35L432.32 111.30L429.97 114.25L427.62 111.30Z" fill="none" stroke="#000000" stroke-width="1.1"/>
<path d="M436.30 109.05L438.65 112.00L436.30 114.95L433.95 112.00Z" fill="none" stroke="#000000" stroke-width="1.1"/>
<path d="M442.63 109.94L444.98 112.89L442.63 115.84L440.28 112.89Z" fill="none" stroke="#000000" stroke-width="1.1"/>
<path d="M448.97 111.34L451.32 114.29L448.97 117.24L446.62 114.29Z" fill="none" stroke="#000000" stroke-width="1.1"/>
<path d="M455.30 112.86L457.65 115.81L455.30 118.76L452.95 115.81Z" fill="none" stroke="#000000" stroke-width="1.1"/>
<path d="M461.63 113.74L463.98 116.69L461.63 119.64L459.28 116.69Z" fill="none" stroke="#000000" stroke-width="1.1"/>
<path d="M467.97 114.53L470.32 117.48L467.97 120.43L465.62 117.48Z" fill="none" stroke="#000000" stroke-width="1.1"/>
<path d="M474.30 115.33L476.65 118.28L474.30 121.23L471.95 118.28Z" fill="none" stroke="#000000" stroke-width="1.1"/>
<path d="M480.63 115.55L482.98 118.50L480.63 121.45L478.28 118.50Z" fill="none" stroke="#000000" stroke-width="1.1"/>
<path d="M486.97 116.71L489.32 119.66L486.97 122.61L484.62 119.66Z" fill="none" stroke="#000000" stroke-width="1.1"/>
<path d="M493.30 117.34L495.65 120.29L493.30 123.24L490.95 120.29Z" fill="none" stroke="#000000" stroke-width="1.1"/>
<path d="M499.63 117.64L501.98 120.59L499.63 123.54L497.28 120.59Z" fill="none" stroke="#000000" stroke-width="1.1"/>
<path d="M505.97 118.42L508.32 121.37L505.97 124.32L503.62 121.37Z" fill="none" stroke="#000000" stroke-width="1.1"/>
<path d="M512.30 119.59L514.65 122.54L512.30 125.49L509.95 122.54Z" fill="none" stroke="#000000" stroke-width="1.1"/>
<path d="M518.63 120.22L520.98 123.17L518.63 126.12L516.28 123.17Z" fill="none" stroke="#000000" stroke-width="1.1"/>
<path d="M524.97 120.86L527.32 123.81L524.97 126.76L522.62 123.81Z" fill="none" stroke="#000000" stroke-width="1.1"/>
<path d="M531.30 121.95L533.65 124.90L531.30 127.85L528.95 124.90Z" fill="none" stroke="#000000" stroke-width="1.1"/>
<path d="M537.63 123.12L539.98 126.07L537.63 129.02L535.28 126.07Z" fill="none" stroke="#000000" stroke-width="1.1"/>
<path d="M543.97 123.82L546.32 126.77L543.97 129.72L541.62 126.77Z" fill="none" stroke="#000000" stroke-width="1.1"/>
<path d="M550.30 125.11L552.65 128.06L550.30 131.01L547.95 128.06Z" fill="none" stroke="#000000" stroke-width="1.1"/>
<path d="M556.63 125.82L558.98 128.77L556.63 131.72L554.28 128.77Z" fill="none" stroke="#000000" stroke-width="1.1"/>
<path d="M562.97 126.60L565.32 129.55L562.97 132.50L560.62 129.55Z" fill="none" stroke="#000000" stroke-width="1.1"/>
<path d="M569.30 126.87L571.65 129.82L569.30 132.77L566.95 129.82Z" fill="none" stroke="#000000" stroke-width="1.1"/>
<path d="M575.63 127.85L577.98 130.80L575.63 133.75L573.28 130.80Z" fill="none" stroke="#000000" stroke-width="1.1"/>
<path d="M581.97 127.85L584.32 130.80L581.97 133.75L579.62 130.80Z" fill="none" stroke="#000000" stroke-width="1.1"/>
<path d="M588.30 128.43L590.65 131.38L588.30 134.33L585.95 131.38Z" fill="none" stroke="#000000" stroke-width="1.1"/>
<path d="M594.63 130.24L596.98 133.19L594.63 136.14L592.28 133.19Z" fill="none" stroke="#000000" stroke-width="1.1"/>
<path d="M600.97 131.96L603.32 134.91L600.97 137.86L598.62 134.91Z" fill="none" stroke="#000000" stroke-width="1.1"/>
<path d="M607.30 132.15L609.65 135.10L607.30 138.05L604.95 135.10Z" fill="none" stroke="#000000" stroke-width="1.1"/>
<path d="M613.63 132.45L615.98 135.40L613.63 138.35L611.28 135.40Z" fill="none" stroke="#000000" stroke-width="1.1"/>
<path d="M619.97 132.55L622.32 135.50L619.97 138.45L617.62 135.50Z" fill="none" stroke="#000000" stroke-width="1.1"/>
<path d="M626.30 132.84L628.65 135.79L626.30 138.74L623.95 135.79Z" fill="none" stroke="#000000" stroke-width="1.1"/>
<path d="M632.63 133.64L634.98 136.59L632.63 139.54L630.28 136.59Z" fill="none" stroke="#000000" stroke-width="1.1"/>
<path d="M638.97 134.83L641.32 137.78L638.97 140.72L636.62 137.78Z" fill="none" stroke="#000000" stroke-width="1.1"/>
<path d="M645.30 135.71L647.65 138.66L645.30 141.61L642.95 138.66Z" fill="none" stroke="#000000" stroke-width="1.1"/>
<path d="M651.63 136.35L653.98 139.30L651.63 142.25L649.28 139.30Z" fill="none" stroke="#000000" stroke-width="1.1"/>
<path d="M657.97 137.13L660.32 140.08L657.97 143.03L655.62 140.08Z" fill="none" stroke="#000000" stroke-width="1.1"/>
<polyline points="404.63,17.60 410.97,17.70 417.30,17.80 423.63,17.90 429.97,17.90 436.30,17.90 442.63,18.21 448.97,18.50 455.30,18.50 461.63,18.50 467.97,18.79 474.30,18.99 480.63,19.10 486.97,19.20 493.30,19.30 499.63,19.40 505.97,19.50 512.30,19.63 518.63,20.26 524.97,20.36 531.30,20.43 537.63,20.50 543.97,20.50 550.30,21.27 556.63,21.43 562.97,21.57 569.30,21.70 575.63,21.85 581.97,22.00 588.30,23.07 594.63,24.05 600.97,24.88 607.30,25.22 613.63,25.57 619.97,25.92 626.30,26.27 632.63,26.62 638.97,26.97 645.30,27.32 651.63,27.67 657.97,28.00" fill="none" stroke="#00ff00" stroke-width="0.8"/>
<circle cx="404.63" cy="17.60" r="2.50" fill="none" stroke="#00ff00" stroke-width="1.1"/>
<circle cx="410.97" cy="17.70" r="2.50" fill="none" stroke="#00ff00" stroke-width="1.1"/>
<circle cx="417.30" cy="17.80" r="2.50" fill="none" stroke="#00ff00" stroke-width="1.1"/>
<circle cx="423.63" cy="17.90" r="2.50" fill="none" stroke="#00ff00" stroke-width="1.1"/>
<circle cx="429.97" cy="17.90" r="2.50" fill="none" stroke="#00ff00" stroke-width="1.1"/>
<circle cx="436.30" cy="17.90" r="2.50" fill="none" stroke="#00ff00" stroke-width="1.1"/>
<circle cx="442.63" cy="18.21" r="2.50" fill="none" stroke="#00ff00" stroke-width="1.1"/>
<circle cx="448.97" cy="18.50" r="2.50" fill="none" stroke="#00ff00" stroke-width="1.1"/>
<circle cx="455.30" cy="18.50" r="2.50" fill="none" stroke="#00ff00" stroke-width="1.1"/>
<circle cx="461.63" cy="18.50" r="2.50" fill="none" stroke="#00ff00" stroke-width="1.1"/>
<circle cx="467.97" cy="18.79" r="2.50" fill="none" stroke="#00ff00" stroke-width="1.1"/>
<circle cx="474.30" cy="18.99" r="2.50" fill="none" stroke="#00ff00" stroke-width="1.1"/>
<circle cx="480.63" cy="19.10" r="2.50" fill="none" stroke="#00ff00" stroke-width="1.1"/>
<circle cx="486.97" cy="19.20" r="2.50" fill="none" stroke="#00ff00" stroke-width="1.1"/>
<circle cx="493.30" cy="19.30" r="2.50" fill="none" stroke="#00ff00" stroke-width="1.1"/>
<circle cx="499.63" cy="19.40" r="2.50" fill="none" stroke="#00ff00" stroke-width="1.1"/>
<circle cx="505.97" cy="19.50" r="2.50" fill="none" stroke="#00ff00" stroke-width="1.1"/>
<circle cx="512.30" cy="19.63" r="2.50" fill="none" stroke="#00ff00" stroke-width="1.1"/>
<circle cx="518.63" cy="20.26" r="2.50" fill="none" stroke="#00ff00" stroke-width="1.1"/>
<circle cx="524.97" cy="20.36" r="2.50" fill="none" stroke="#00ff00" stroke-width="1.1"/>
<circle cx="531.30" cy="20.43" r="2.50" fill="none" stroke="#00ff00" stroke-width="1.1"/>
<circle cx="537.63" cy="20.50" r="2.50" fill="none" stroke="#00ff00" stroke-width="1.1"/>
<circle cx="543.97" cy="20.50" r="2.50" fill="none" stroke="#00ff00" stroke-width="1.1"/>
<circle cx="550.30" cy="21.27" r="2.50" fill="none" stroke="#00ff00" stroke-width="1.1"/>
<circle cx="556.63" cy="21.43" r="2.50" fill="none" stroke="#00ff00" stroke-width="1.1"/>
<circle cx="562.97" cy="21.57" r="2.50" fill="none" stroke="#00ff00" stroke-width="1.1"/>
<circle cx="569.30" cy="21.70" r="2.50" fill="none" stroke="#00ff00" stroke-width="1.1"/>
<circle cx="575.63" cy="21.85" r="2.50" fill="none" stroke="#00ff00" stroke-width="1.1"/>
<circle cx="581.97" cy="22.00" r="2.50" fill="none" stroke="#00ff00" stroke-width="1.1"/>
<circle cx="588.30" cy="23.07" r="2.50" fill="none" stroke="#00ff00" stroke-width="1.1"/>
<circle cx="594.63" cy="24.05" r="2.50" fill="none" stroke="#00ff00" stroke-width="1.1"/>
<circle cx="600.97" cy="24.88" r="2.50" fill="none" stroke="#00ff00" stroke-width="1.1"/>
<circle cx="607.30" cy="25.22" r="2.50" fill="none" stroke="#00ff00" stroke-width="1.1"/>
<circle cx="613.63" cy="25.57" r="2.50" fill="none" stroke="#00ff00" stroke-width="1.1"/>
<circle cx="619.97" cy="25.92" r="2.50" fill="none" stroke="#00ff00" stroke-width="1.1"/>
<circle cx="626.30" cy="26.27" r="2.50" fill="none" stroke="#00ff00" stroke-width="1.1"/>
<circle cx="632.63" cy="26.62" r="2.50" fill="none" stroke="#00ff00" stroke-width="1.1"/>
<circle cx="638.97" cy="26.97" r="2.50" fill="none" stroke="#00ff00" stroke-width="1.1"/>
<circle cx="645.30" cy="27.32" r="2.50" fill="none" stroke="#00ff00" stroke-width="1.1"/>
<circle cx="651.63" cy="27.67" r="2.50" fill="none" stroke="#00ff00" stroke-width="1.1"/>
<circle cx="657.97" cy="28.00" r="2.50" fill="none" stroke="#00ff00" stroke-width="1.1"/>
<polyline points="404.63,36.70 410.97,37.09 417.30,37.39 423.63,38.29 429.97,38.59 436.30,39.70 442.63,40.29 448.97,41.10 455.30,41.81 461.63,42.59 467.97,42.80 474.30,43.38 480.63,44.29 486.97,44.59 493.30,44.80 499.63,44.80 505.97,44.99 512.30,45.19 518.63,45.39 524.97,45.81 531.30,46.60 537.63,48.06 543.97,48.39 550.30,48.69 556.63,48.89 562.97,49.27 569.30,50.31 575.63,50.80 581.97,51.40 588.30,51.59 594.63,51.83 600.97,52.27 607.30,52.57 613.63,52.88 619.97,53.18 626.30,53.49 632.63,53.79 638.97,54.10 645.30,54.40 651.63,54.71 657.97,55.00" fill="none" stroke="#0000ff" stroke-width="0.8"/>
<path d="M402.13 36.70H407.13M404.63 34.20V39.20M402.76 34.83L406.51 38.58M402.76 38.58L406.51 34.83" stroke="#0000ff" stroke-width="1"/>
<path d="M408.47 37.09H413.47M410.97 34.59V39.59M409.09 35.22L412.84 38.97M409.09 38.97L412.84 35.22" stroke="#0000ff" stroke-width="1"/>
<path d="M414.80 37.39H419.80M417.30 34.89V39.89M415.43 35.52L419.18 39.27M415.43 39.27L419.18 35.52" stroke="#0000ff" stroke-width="1"/>
<path d="M421.13 38.29H426.13M423.63 35.79V40.79M421.76 36.42L425.51 40.17M421.76 40.17L425.51 36.42" stroke="#0000ff" stroke-width="1"/>
<path d="M427.47 38.59H432.47M429.97 36.09V41.09M428.09 36.72L431.84 40.47M428.09 40.47L431.84 36.72" stroke="#0000ff" stroke-width="1"/>
<path d="M433.80 39.70H438.80M436.30 37.20V42.20M434.43 37.83L438.18 41.58M434.43 41.58L438.18 37.83" stroke="#0000ff" stroke-width="1"/>
<path d="M440.13 40.29H445.13M442.63 37.79V42.79M440.76 38.42L444.51 42.17M440.76 42.17L444.51 38.42" stroke="#0000ff" stroke-width="1"/>
<path d="M446.47 41.10H451.47M448.97 38.60V43.60M447.09 39.22L450.84 42.97M447.09 42.97L450.84 39.22" stroke="#0000ff" stroke-width="1"/>
<path d="M452.80 41.81H457.80M455.30 39.31V44.31M453.43 39.94L457.18 43.69M453.43 43.69L457.18 39.94" stroke="#0000ff" stroke-width="1"/>
<path d="M459.13 42.59H464.13M461.63 40.09V45.09M459.76 40.72L463.51 44.47M459.76 44.47L463.51 40.72" stroke="#0000ff" stroke-width="1"/>
<path d="M465.47 42.80H470.47M467.97 40.30V45.30M466.09 40.92L469.84 44.67M466.09 44.67L469.84 40.92" stroke="#0000ff" stroke-width="1"/>
<path d="M471.80 43.38H476.80M474.30 40.88V45.88M472.43 41.51L476.18 45.26M472.43 45.26L476.18 41.51" stroke="#0000ff" stroke-width="1"/>
<path d="M478.13 44.29H483.13M480.63 41.79V46.79M478.76 42.42L482.51 46.17M478.76 46.17L482.51 42.42" stroke="#0000ff" stroke-width="1"/>
<path d="M484.47 44.59H489.47M486.97 42.09V47.09M485.09 42.71L488.84 46.46M485.09 46.46L488.84 42.71" stroke="#0000ff" stroke-width="1"/>
<path d="M490.80 44.80H495.80M493.30 42.30V47.30M491.43 42.92L495.18 46.67M491.43 46.67L495.18 42.92" stroke="#0000ff" stroke-width="1"/>
<path d="M497.13 44.80H502.13M499.63 42.30V47.30M497.76 42.92L501.51 46.67M497.76 46.67L501.51 42.92" stroke="#0000ff" stroke-width="1"/>
<path d="M503.47 44.99H508.47M505.97 42.49V47.49M504.09 43.12L507.84 46.87M504.09 46.87L507.84 43.12" stroke="#0000ff" stroke-width="1"/>
<path d="M509.80 45.19H514.80M512.30 42.69V47.69M510.42 43.32L514.17 47.07M510.42 47.07L514.17 43.32" stroke="#0000ff" stroke-width="1"/>
<path d="M516.13 45.39H521.13M518.63 42.89V47.89M516.76 43.51L520.51 47.26M516.76 47.26L520.51 43.51" stroke="#0000ff" stroke-width="1"/>
<path d="M522.47 45.81H527.47M524.97 43.31V48.31M523.09 43.93L526.84 47.68M523.09 47.68L526.84 43.93" stroke="#0000ff" stroke-width="1"/>
<path d="M528.80 46.60H533.80M531.30 44.10V49.10M529.42 44.73L533.17 48.48M529.42 48.48L533.17 44.73" stroke="#0000ff" stroke-width="1"/>
<path d="M535.13 48.06H540.13M537.63 45.56V50.56M535.76 46.19L539.51 49.94M535.76 49.94L539.51 46.19" stroke="#0000ff" stroke-width="1"/>
<path d="M541.47 48.39H546.47M543.97 45.89V50.89M542.09 46.51L545.84 50.26M542.09 50.26L545.84 46.51" stroke="#0000ff" stroke-width="1"/>
<path d="M547.80 48.69H552.80M550.30 46.19V51.19M548.42 46.82L552.17 50.57M548.42 50.57L552.17 46.82" stroke="#0000ff" stroke-width="1"/>
<path d="M554.13 48.89H559.13M556.63 46.39V51.39M554.76 47.02L558.51 50.77M554.76 50.77L558.51 47.02" stroke="#0000ff" stroke-width="1"/>
<path d="M560.47 49.27H565.47M562.97 46.77V51.77M561.09 47.40L564.84 51.15M561.09 51.15L564.84 47.40" stroke="#0000ff" stroke-width="1"/>
<path d="M566.80 50.31H571.80M569.30 47.81V52.81M567.42 48.44L571.17 52.19M567.42 52.19L571.17 48.44" stroke="#0000ff" stroke-width="1"/>
<path d="M573.13 50.80H578.13M575.63 48.30V53.30M573.76 48.93L577.51 52.68M573.76 52.68L577.51 48.93" stroke="#0000ff" stroke-width="1"/>
<path d="M579.47 51.40H584.47M581.97 48.90V53.90M580.09 49.52L583.84 53.27M580.09 53.27L583.84 49.52" stroke="#0000ff" stroke-width="1"/>
<path d="M585.80 51.59H590.80M588.30 49.09V54.09M586.42 49.72L590.17 53.47M586.42 53.47L590.17 49.72" stroke="#0000ff" stroke-width="1"/>
<path d="M592.13 51.83H597.13M594.63 49.33V54.33M592.76 49.95L596.51 53.70M592.76 53.70L596.51 49.95" stroke="#0000ff" stroke-width="1"/>
<path d="M598.47 52.27H603.47M600.97 49.77V54.77M599.09 50.39L602.84 54.14M599.09 54.14L602.84 50.39" stroke="#0000ff" stroke-width="1"/>
<path d="M604.80 52.57H609.80M607.30 50.07V55.07M605.42 50.70L609.17 54.45M605.42 54.45L609.17 50.70" stroke="#0000ff" stroke-width="1"/>
<path d="M611.13 52.88H616.13M613.63 50.38V55.38M611.76 51.00L615.51 54.75M611.76 54.75L615.51 51.00" stroke="#0000ff" stroke-width="1"/>
<path d="M617.47 53.18H622.47M619.97 50.68V55.68M618.09 51.31L621.84 55.06M618.09 55.06L621.84 51.31" stroke="#0000ff" stroke-width="1"/>
<path d="M623.80 53.49H628.80M626.30 50.99V55.99M624.42 51.61L628.17 55.36M624.42 55.36L628.17 51.61" stroke="#0000ff" stroke-width="1"/>
<path d="M630.13 53.79H635.13M632.63 51.29V56.29M630.76 51.92L634.51 55.67M630.76 55.67L634.51 51.92" stroke="#0000ff" stroke-width="1"/>
<path d="M636.47 54.10H641.47M638.97 51.60V56.60M637.09 52.22L640.84 55.97M637.09 55.97L640.84 52.22" stroke="#0000ff" stroke-width="1"/>
<path d="M642.80 54.40H647.80M645.30 51.90V56.90M643.42 52.53L647.17 56.28M643.42 56.28L647.17 52.53" stroke="#0000ff" stroke-width="1"/>
<path d="M649.13 54.71H654.13M651.63 52.21V57.21M649.76 52.83L653.51 56.58M649.76 56.58L653.51 52.83" stroke="#0000ff" stroke-width="1"/>
<path d="M655.47 55.00H660.47M657.97 52.50V57.50M656.09 53.12L659.84 56.88M656.09 56.88L659.84 53.12" stroke="#0000ff" stroke-width="1"/>
<polyline points="404.63,75.80 410.97,76.39 417.30,76.80 423.63,77.89 429.97,79.08 436.30,79.29 442.63,79.30 448.97,80.00 455.30,80.29 461.63,80.89 467.97,81.39 474.30,82.27 480.63,82.50 486.97,82.69 493.30,83.09 499.63,83.29 505.97,83.69 512.30,85.03 518.63,85.38 524.97,85.70 531.30,85.80 537.63,86.38 543.97,86.50 550.30,86.40 556.63,86.59 562.97,86.69 569.30,87.20 575.63,87.22 581.97,87.24 588.30,87.26 594.63,87.28 600.97,87.32 607.30,87.70 613.63,87.81 619.97,88.01 626.30,88.40 632.63,88.50 638.97,89.28 645.30,89.33 651.63,89.37 657.97,89.40" fill="none" stroke="#ff0000" stroke-width="0.8" stroke-dasharray="3.6,3.2"/>
<path d="M402.03 75.80H407.23" stroke="#ff0000" stroke-width="0.75"/><path d="M404.63 72.90V78.70" stroke="#ff0000" stroke-width="1.05"/>
<path d="M408.37 76.39H413.57" stroke="#ff0000" stroke-width="0.75"/><path d="M410.97 73.49V79.29" stroke="#ff0000" stroke-width="1.05"/>
<path d="M414.70 76.80H419.90" stroke="#ff0000" stroke-width="0.75"/><path d="M417.30 73.90V79.70" stroke="#ff0000" stroke-width="1.05"/>
<path d="M421.03 77.89H426.23" stroke="#ff0000" stroke-width="0.75"/><path d="M423.63 74.99V80.79" stroke="#ff0000" stroke-width="1.05"/>
<path d="M427.37 79.08H432.57" stroke="#ff0000" stroke-width="0.75"/><path d="M429.97 76.17V81.98" stroke="#ff0000" stroke-width="1.05"/>
<path d="M433.70 79.29H438.90" stroke="#ff0000" stroke-width="0.75"/><path d="M436.30 76.39V82.19" stroke="#ff0000" stroke-width="1.05"/>
<path d="M440.03 79.30H445.23" stroke="#ff0000" stroke-width="0.75"/><path d="M442.63 76.40V82.20" stroke="#ff0000" stroke-width="1.05"/>
<path d="M446.37 80.00H451.57" stroke="#ff0000" stroke-width="0.75"/><path d="M448.97 77.10V82.90" stroke="#ff0000" stroke-width="1.05"/>
<path d="M452.70 80.29H457.90" stroke="#ff0000" stroke-width="0.75"/><path d="M455.30 77.39V83.19" stroke="#ff0000" stroke-width="1.05"/>
<path d="M459.03 80.89H464.23" stroke="#ff0000" stroke-width="0.75"/><path d="M461.63 77.99V83.79" stroke="#ff0000" stroke-width="1.05"/>
<path d="M465.37 81.39H470.57" stroke="#ff0000" stroke-width="0.75"/><path d="M467.97 78.49V84.29" stroke="#ff0000" stroke-width="1.05"/>
<path d="M471.70 82.27H476.90" stroke="#ff0000" stroke-width="0.75"/><path d="M474.30 79.37V85.17" stroke="#ff0000" stroke-width="1.05"/>
<path d="M478.03 82.50H483.23" stroke="#ff0000" stroke-width="0.75"/><path d="M480.63 79.60V85.40" stroke="#ff0000" stroke-width="1.05"/>
<path d="M484.37 82.69H489.57" stroke="#ff0000" stroke-width="0.75"/><path d="M486.97 79.79V85.59" stroke="#ff0000" stroke-width="1.05"/>
<path d="M490.70 83.09H495.90" stroke="#ff0000" stroke-width="0.75"/><path d="M493.30 80.19V85.99" stroke="#ff0000" stroke-width="1.05"/>
<path d="M497.03 83.29H502.23" stroke="#ff0000" stroke-width="0.75"/><path d="M499.63 80.39V86.19" stroke="#ff0000" stroke-width="1.05"/>
<path d="M503.37 83.69H508.57" stroke="#ff0000" stroke-width="0.75"/><path d="M505.97 80.79V86.59" stroke="#ff0000" stroke-width="1.05"/>
<path d="M509.70 85.03H514.90" stroke="#ff0000" stroke-width="0.75"/><path d="M512.30 82.13V87.93" stroke="#ff0000" stroke-width="1.05"/>
<path d="M516.03 85.38H521.23" stroke="#ff0000" stroke-width="0.75"/><path d="M518.63 82.48V88.28" stroke="#ff0000" stroke-width="1.05"/>
<path d="M522.37 85.70H527.57" stroke="#ff0000" stroke-width="0.75"/><path d="M524.97 82.80V88.60" stroke="#ff0000" stroke-width="1.05"/>
<path d="M528.70 85.80H533.90" stroke="#ff0000" stroke-width="0.75"/><path d="M531.30 82.90V88.70" stroke="#ff0000" stroke-width="1.05"/>
<path d="M535.03 86.38H540.23" stroke="#ff0000" stroke-width="0.75"/><path d="M537.63 83.48V89.28" stroke="#ff0000" stroke-width="1.05"/>
<path d="M541.37 86.50H546.57" stroke="#ff0000" stroke-width="0.75"/><path d="M543.97 83.60V89.40" stroke="#ff0000" stroke-width="1.05"/>
<path d="M547.70 86.40H552.90" stroke="#ff0000" stroke-width="0.75"/><path d="M550.30 83.50V89.30" stroke="#ff0000" stroke-width="1.05"/>
<path d="M554.03 86.59H559.23" stroke="#ff0000" stroke-width="0.75"/><path d="M556.63 83.69V89.49" stroke="#ff0000" stroke-width="1.05"/>
<path d="M560.37 86.69H565.57" stroke="#ff0000" stroke-width="0.75"/><path d="M562.97 83.79V89.59" stroke="#ff0000" stroke-width="1.05"/>
<path d="M566.70 87.20H571.90" stroke="#ff0000" stroke-width="0.75"/><path d="M569.30 84.30V90.10" stroke="#ff0000" stroke-width="1.05"/>
<path d="M573.03 87.22H578.23" stroke="#ff0000" stroke-width="0.75"/><path d="M575.63 84.32V90.12" stroke="#ff0000" stroke-width="1.05"/>
<path d="M579.37 87.24H584.57" stroke="#ff0000" stroke-width="0.75"/><path d="M581.97 84.34V90.14" stroke="#ff0000" stroke-width="1.05"/>
<path d="M585.70 87.26H590.90" stroke="#ff0000" stroke-width="0.75"/><path d="M588.30 84.36V90.16" stroke="#ff0000" stroke-width="1.05"/>
<path d="M592.03 87.28H597.23" stroke="#ff0000" stroke-width="0.75"/><path d="M594.63 84.38V90.18" stroke="#ff0000" stroke-width="1.05"/>
<path d="M598.37 87.32H603.57" stroke="#ff0000" stroke-width="0.75"/><path d="M600.97 84.42V90.22" stroke="#ff0000" stroke-width="1.05"/>
<path d="M604.70 87.70H609.90" stroke="#ff0000" stroke-width="0.75"/><path d="M607.30 84.80V90.60" stroke="#ff0000" stroke-width="1.05"/>
<path d="M611.03 87.81H616.23" stroke="#ff0000" stroke-width="0.75"/><path d="M613.63 84.91V90.71" stroke="#ff0000" stroke-width="1.05"/>
<path d="M617.37 88.01H622.57" stroke="#ff0000" stroke-width="0.75"/><path d="M619.97 85.11V90.91" stroke="#ff0000" stroke-width="1.05"/>
<path d="M623.70 88.40H628.90" stroke="#ff0000" stroke-width="0.75"/><path d="M626.30 85.50V91.30" stroke="#ff0000" stroke-width="1.05"/>
<path d="M630.03 88.50H635.23" stroke="#ff0000" stroke-width="0.75"/><path d="M632.63 85.60V91.40" stroke="#ff0000" stroke-width="1.05"/>
<path d="M636.37 89.28H641.57" stroke="#ff0000" stroke-width="0.75"/><path d="M638.97 86.38V92.18" stroke="#ff0000" stroke-width="1.05"/>
<path d="M642.70 89.33H647.90" stroke="#ff0000" stroke-width="0.75"/><path d="M645.30 86.43V92.23" stroke="#ff0000" stroke-width="1.05"/>
<path d="M649.03 89.37H654.23" stroke="#ff0000" stroke-width="0.75"/><path d="M651.63 86.47V92.27" stroke="#ff0000" stroke-width="1.05"/>
<path d="M655.37 89.40H660.57" stroke="#ff0000" stroke-width="0.75"/><path d="M657.97 86.50V92.30" stroke="#ff0000" stroke-width="1.05"/>
<polyline points="404.63,90.70 410.97,92.07 417.30,93.70 423.63,94.39 429.97,94.99 436.30,95.57 442.63,96.00 448.97,96.60 455.30,96.99 461.63,97.69 467.97,98.48 474.30,99.08 480.63,100.58 486.97,101.27 493.30,101.89 499.63,102.09 505.97,102.68 512.30,103.08 518.63,103.10 524.97,103.41 531.30,104.20 537.63,104.78 543.97,104.90 550.30,105.29 556.63,105.49 562.97,105.69 569.30,106.10 575.63,106.40 581.97,106.50 588.30,106.79 594.63,106.92 600.97,107.22 607.30,107.60 613.63,107.71 619.97,107.93 626.30,109.20 632.63,109.79 638.97,110.29 645.30,111.20 651.63,111.40 657.97,111.88" fill="none" stroke="#00ffff" stroke-width="0.8" stroke-dasharray="3.6,3.2"/>
<path d="M404.63 94.20L401.60 88.95L407.66 88.95Z" fill="none" stroke="#00ffff" stroke-width="1.1"/>
<path d="M410.97 95.57L407.94 90.32L414.00 90.32Z" fill="none" stroke="#00ffff" stroke-width="1.1"/>
<path d="M417.30 97.20L414.27 91.95L420.33 91.95Z" fill="none" stroke="#00ffff" stroke-width="1.1"/>
<path d="M423.63 97.89L420.60 92.64L426.66 92.64Z" fill="none" stroke="#00ffff" stroke-width="1.1"/>
<path d="M429.97 98.49L426.94 93.24L433.00 93.24Z" fill="none" stroke="#00ffff" stroke-width="1.1"/>
<path d="M436.30 99.07L433.27 93.82L439.33 93.82Z" fill="none" stroke="#00ffff" stroke-width="1.1"/>
<path d="M442.63 99.50L439.60 94.25L445.66 94.25Z" fill="none" stroke="#00ffff" stroke-width="1.1"/>
<path d="M448.97 100.10L445.94 94.85L452.00 94.85Z" fill="none" stroke="#00ffff" stroke-width="1.1"/>
<path d="M455.30 100.49L452.27 95.24L458.33 95.24Z" fill="none" stroke="#00ffff" stroke-width="1.1"/>
<path d="M461.63 101.19L458.60 95.94L464.66 95.94Z" fill="none" stroke="#00ffff" stroke-width="1.1"/>
<path d="M467.97 101.98L464.94 96.73L471.00 96.73Z" fill="none" stroke="#00ffff" stroke-width="1.1"/>
<path d="M474.30 102.58L471.27 97.33L477.33 97.33Z" fill="none" stroke="#00ffff" stroke-width="1.1"/>
<path d="M480.63 104.08L477.60 98.83L483.66 98.83Z" fill="none" stroke="#00ffff" stroke-width="1.1"/>
<path d="M486.97 104.77L483.94 99.52L490.00 99.52Z" fill="none" stroke="#00ffff" stroke-width="1.1"/>
<path d="M493.30 105.39L490.27 100.14L496.33 100.14Z" fill="none" stroke="#00ffff" stroke-width="1.1"/>
<path d="M499.63 105.59L496.60 100.34L502.66 100.34Z" fill="none" stroke="#00ffff" stroke-width="1.1"/>
<path d="M505.97 106.18L502.94 100.93L509.00 100.93Z" fill="none" stroke="#00ffff" stroke-width="1.1"/>
<path d="M512.30 106.58L509.27 101.33L515.33 101.33Z" fill="none" stroke="#00ffff" stroke-width="1.1"/>
<path d="M518.63 106.60L515.60 101.35L521.66 101.35Z" fill="none" stroke="#00ffff" stroke-width="1.1"/>
<path d="M524.97 106.91L521.94 101.66L528.00 101.66Z" fill="none" stroke="#00ffff" stroke-width="1.1"/>
<path d="M531.30 107.70L528.27 102.45L534.33 102.45Z" fill="none" stroke="#00ffff" stroke-width="1.1"/>
<path d="M537.63 108.28L534.60 103.03L540.66 103.03Z" fill="none" stroke="#00ffff" stroke-width="1.1"/>
<path d="M543.97 108.40L540.94 103.15L547.00 103.15Z" fill="none" stroke="#00ffff" stroke-width="1.1"/>
<path d="M550.30 108.79L547.27 103.54L553.33 103.54Z" fill="none" stroke="#00ffff" stroke-width="1.1"/>
<path d="M556.63 108.99L553.60 103.74L559.66 103.74Z" fill="none" stroke="#00ffff" stroke-width="1.1"/>
<path d="M562.97 109.19L559.94 103.94L566.00 103.94Z" fill="none" stroke="#00ffff" stroke-width="1.1"/>
<path d="M569.30 109.60L566.27 104.35L572.33 104.35Z" fill="none" stroke="#00ffff" stroke-width="1.1"/>
<path d="M575.63 109.90L572.60 104.65L578.66 104.65Z" fill="none" stroke="#00ffff" stroke-width="1.1"/>
<path d="M581.97 110.00L578.94 104.75L585.00 104.75Z" fill="none" stroke="#00ffff" stroke-width="1.1"/>
<path d="M588.30 110.29L585.27 105.04L591.33 105.04Z" fill="none" stroke="#00ffff" stroke-width="1.1"/>
<path d="M594.63 110.42L591.60 105.17L597.66 105.17Z" fill="none" stroke="#00ffff" stroke-width="1.1"/>
<path d="M600.97 110.72L597.94 105.47L604.00 105.47Z" fill="none" stroke="#00ffff" stroke-width="1.1"/>
<path d="M607.30 111.10L604.27 105.85L610.33 105.85Z" fill="none" stroke="#00ffff" stroke-width="1.1"/>
<path d="M613.63 111.21L610.60 105.96L616.66 105.96Z" fill="none" stroke="#00ffff" stroke-width="1.1"/>
<path d="M619.97 111.43L616.94 106.18L623.00 106.18Z" fill="none" stroke="#00ffff" stroke-width="1.1"/>
<path d="M626.30 112.70L623.27 107.45L629.33 107.45Z" fill="none" stroke="#00ffff" stroke-width="1.1"/>
<path d="M632.63 113.29L629.60 108.04L635.66 108.04Z" fill="none" stroke="#00ffff" stroke-width="1.1"/>
<path d="M638.97 113.79L635.94 108.54L642.00 108.54Z" fill="none" stroke="#00ffff" stroke-width="1.1"/>
<path d="M645.30 114.70L642.27 109.45L648.33 109.45Z" fill="none" stroke="#00ffff" stroke-width="1.1"/>
<path d="M651.63 114.90L648.60 109.65L654.66 109.65Z" fill="none" stroke="#00ffff" stroke-width="1.1"/>
<path d="M657.97 115.38L654.94 110.13L661.00 110.13Z" fill="none" stroke="#00ffff" stroke-width="1.1"/></g>
<rect x="600.5" y="10.5" width="76" height="67" fill="#ffffff" stroke="#808080" stroke-width="1"/>
<path d="M602.7 17.30H628.7" stroke="#ffff00" stroke-width="0.9"/>
<path d="M619.30 17.30L614.05 14.27L614.05 20.33Z" fill="none" stroke="#ffff00" stroke-width="1.1"/>
<text x="631" y="20.70" font-size="7.85" fill="#262626" font-family="Liberation Sans, sans-serif" stroke="#262626" stroke-width="0.15">HCOA</text>
<path d="M602.7 28.05H628.7" stroke="#000000" stroke-width="0.9"/>
<path d="M615.80 25.10L618.15 28.05L615.80 31.00L613.45 28.05Z" fill="none" stroke="#000000" stroke-width="1.1"/>
<text x="631" y="31.45" font-size="7.85" fill="#262626" font-family="Liberation Sans, sans-serif" stroke="#262626" stroke-width="0.15">BBPSO</text>
<path d="M602.7 38.80H628.7" stroke="#00ff00" stroke-width="0.9"/>
<circle cx="615.80" cy="38.80" r="2.50" fill="none" stroke="#00ff00" stroke-width="1.1"/>
<text x="631" y="42.20" font-size="7.85" fill="#262626" font-family="Liberation Sans, sans-serif" stroke="#262626" stroke-width="0.15">PBBPSO</text>
<path d="M602.7 49.55H628.7" stroke="#0000ff" stroke-width="0.9"/>
<rect x="614.20" y="47.95" width="3.2" height="3.2" fill="#0000ff"/>
<text x="631" y="52.95" font-size="7.85" fill="#262626" font-family="Liberation Sans, sans-serif" stroke="#262626" stroke-width="0.15">DLSBBPSO</text>
<path d="M602.7 60.30H628.7" stroke="#ff0000" stroke-width="0.9" stroke-dasharray="3.6,3.2"/>
<path d="M613.20 60.30H618.40" stroke="#ff0000" stroke-width="0.75"/><path d="M615.80 57.40V63.20" stroke="#ff0000" stroke-width="1.05"/>
<text x="631" y="63.70" font-size="7.85" fill="#262626" font-family="Liberation Sans, sans-serif" stroke="#262626" stroke-width="0.15">TBBPSO</text>
<path d="M602.7 71.05H628.7" stroke="#00ffff" stroke-width="0.9" stroke-dasharray="3.6,3.2"/>
<path d="M615.80 74.55L612.77 69.30L618.83 69.30Z" fill="none" stroke="#00ffff" stroke-width="1.1"/>
<text x="631" y="74.45" font-size="7.85" fill="#262626" font-family="Liberation Sans, sans-serif" stroke="#262626" stroke-width="0.15">ETBBPSO</text>
</svg>
</body></html>
